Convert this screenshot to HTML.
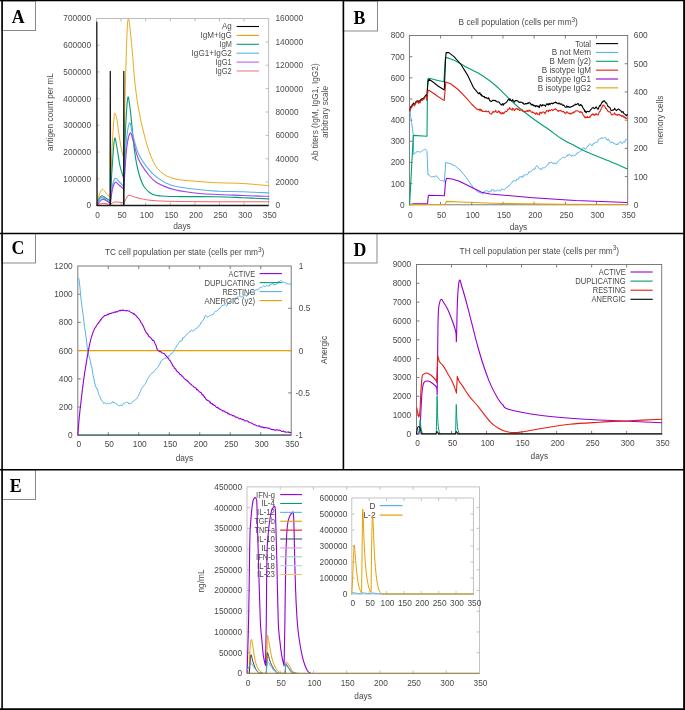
<!DOCTYPE html><html><head><meta charset="utf-8"><style>html,body{margin:0;padding:0;background:#fff;}svg{display:block;will-change:transform;}</style></head><body><svg width="685" height="710" viewBox="0 0 685 710">
<rect width="685" height="710" fill="#fff"/>
<rect x="96.5" y="18.5" width="172.2" height="187" fill="none" stroke="#b4b4b4" stroke-width="0.9"/>
<line x1="121.1" y1="205.5" x2="121.1" y2="202.5" stroke="#b4b4b4" stroke-width="0.9"/>
<line x1="121.1" y1="18.5" x2="121.1" y2="21.5" stroke="#b4b4b4" stroke-width="0.9"/>
<line x1="145.7" y1="205.5" x2="145.7" y2="202.5" stroke="#b4b4b4" stroke-width="0.9"/>
<line x1="145.7" y1="18.5" x2="145.7" y2="21.5" stroke="#b4b4b4" stroke-width="0.9"/>
<line x1="170.3" y1="205.5" x2="170.3" y2="202.5" stroke="#b4b4b4" stroke-width="0.9"/>
<line x1="170.3" y1="18.5" x2="170.3" y2="21.5" stroke="#b4b4b4" stroke-width="0.9"/>
<line x1="194.9" y1="205.5" x2="194.9" y2="202.5" stroke="#b4b4b4" stroke-width="0.9"/>
<line x1="194.9" y1="18.5" x2="194.9" y2="21.5" stroke="#b4b4b4" stroke-width="0.9"/>
<line x1="219.5" y1="205.5" x2="219.5" y2="202.5" stroke="#b4b4b4" stroke-width="0.9"/>
<line x1="219.5" y1="18.5" x2="219.5" y2="21.5" stroke="#b4b4b4" stroke-width="0.9"/>
<line x1="244.1" y1="205.5" x2="244.1" y2="202.5" stroke="#b4b4b4" stroke-width="0.9"/>
<line x1="244.1" y1="18.5" x2="244.1" y2="21.5" stroke="#b4b4b4" stroke-width="0.9"/>
<line x1="96.5" y1="178.79" x2="99.5" y2="178.79" stroke="#b4b4b4" stroke-width="0.9"/>
<line x1="96.5" y1="152.07" x2="99.5" y2="152.07" stroke="#b4b4b4" stroke-width="0.9"/>
<line x1="96.5" y1="125.36" x2="99.5" y2="125.36" stroke="#b4b4b4" stroke-width="0.9"/>
<line x1="96.5" y1="98.64" x2="99.5" y2="98.64" stroke="#b4b4b4" stroke-width="0.9"/>
<line x1="96.5" y1="71.93" x2="99.5" y2="71.93" stroke="#b4b4b4" stroke-width="0.9"/>
<line x1="96.5" y1="45.21" x2="99.5" y2="45.21" stroke="#b4b4b4" stroke-width="0.9"/>
<line x1="268.7" y1="182.12" x2="265.7" y2="182.12" stroke="#b4b4b4" stroke-width="0.9"/>
<line x1="268.7" y1="158.75" x2="265.7" y2="158.75" stroke="#b4b4b4" stroke-width="0.9"/>
<line x1="268.7" y1="135.38" x2="265.7" y2="135.38" stroke="#b4b4b4" stroke-width="0.9"/>
<line x1="268.7" y1="112" x2="265.7" y2="112" stroke="#b4b4b4" stroke-width="0.9"/>
<line x1="268.7" y1="88.62" x2="265.7" y2="88.62" stroke="#b4b4b4" stroke-width="0.9"/>
<line x1="268.7" y1="65.25" x2="265.7" y2="65.25" stroke="#b4b4b4" stroke-width="0.9"/>
<line x1="268.7" y1="41.88" x2="265.7" y2="41.88" stroke="#b4b4b4" stroke-width="0.9"/>
<text x="91" y="208.47" font-size="8.3" text-anchor="end" fill="#4d4d4d" font-family='"Liberation Sans", sans-serif' font-weight="normal">0</text>
<text x="91" y="181.76" font-size="8.3" text-anchor="end" fill="#4d4d4d" font-family='"Liberation Sans", sans-serif' font-weight="normal">100000</text>
<text x="91" y="155.04" font-size="8.3" text-anchor="end" fill="#4d4d4d" font-family='"Liberation Sans", sans-serif' font-weight="normal">200000</text>
<text x="91" y="128.33" font-size="8.3" text-anchor="end" fill="#4d4d4d" font-family='"Liberation Sans", sans-serif' font-weight="normal">300000</text>
<text x="91" y="101.61" font-size="8.3" text-anchor="end" fill="#4d4d4d" font-family='"Liberation Sans", sans-serif' font-weight="normal">400000</text>
<text x="91" y="74.9" font-size="8.3" text-anchor="end" fill="#4d4d4d" font-family='"Liberation Sans", sans-serif' font-weight="normal">500000</text>
<text x="91" y="48.19" font-size="8.3" text-anchor="end" fill="#4d4d4d" font-family='"Liberation Sans", sans-serif' font-weight="normal">600000</text>
<text x="91" y="21.47" font-size="8.3" text-anchor="end" fill="#4d4d4d" font-family='"Liberation Sans", sans-serif' font-weight="normal">700000</text>
<text x="275.5" y="208.47" font-size="8.3" text-anchor="start" fill="#4d4d4d" font-family='"Liberation Sans", sans-serif' font-weight="normal">0</text>
<text x="275.5" y="185.1" font-size="8.3" text-anchor="start" fill="#4d4d4d" font-family='"Liberation Sans", sans-serif' font-weight="normal">20000</text>
<text x="275.5" y="161.72" font-size="8.3" text-anchor="start" fill="#4d4d4d" font-family='"Liberation Sans", sans-serif' font-weight="normal">40000</text>
<text x="275.5" y="138.35" font-size="8.3" text-anchor="start" fill="#4d4d4d" font-family='"Liberation Sans", sans-serif' font-weight="normal">60000</text>
<text x="275.5" y="114.97" font-size="8.3" text-anchor="start" fill="#4d4d4d" font-family='"Liberation Sans", sans-serif' font-weight="normal">80000</text>
<text x="275.5" y="91.6" font-size="8.3" text-anchor="start" fill="#4d4d4d" font-family='"Liberation Sans", sans-serif' font-weight="normal">100000</text>
<text x="275.5" y="68.22" font-size="8.3" text-anchor="start" fill="#4d4d4d" font-family='"Liberation Sans", sans-serif' font-weight="normal">120000</text>
<text x="275.5" y="44.85" font-size="8.3" text-anchor="start" fill="#4d4d4d" font-family='"Liberation Sans", sans-serif' font-weight="normal">140000</text>
<text x="275.5" y="21.47" font-size="8.3" text-anchor="start" fill="#4d4d4d" font-family='"Liberation Sans", sans-serif' font-weight="normal">160000</text>
<text x="97.5" y="217.57" font-size="8.3" text-anchor="middle" fill="#4d4d4d" font-family='"Liberation Sans", sans-serif' font-weight="normal">0</text>
<text x="122.1" y="217.57" font-size="8.3" text-anchor="middle" fill="#4d4d4d" font-family='"Liberation Sans", sans-serif' font-weight="normal">50</text>
<text x="146.7" y="217.57" font-size="8.3" text-anchor="middle" fill="#4d4d4d" font-family='"Liberation Sans", sans-serif' font-weight="normal">100</text>
<text x="171.3" y="217.57" font-size="8.3" text-anchor="middle" fill="#4d4d4d" font-family='"Liberation Sans", sans-serif' font-weight="normal">150</text>
<text x="195.9" y="217.57" font-size="8.3" text-anchor="middle" fill="#4d4d4d" font-family='"Liberation Sans", sans-serif' font-weight="normal">200</text>
<text x="220.5" y="217.57" font-size="8.3" text-anchor="middle" fill="#4d4d4d" font-family='"Liberation Sans", sans-serif' font-weight="normal">250</text>
<text x="245.1" y="217.57" font-size="8.3" text-anchor="middle" fill="#4d4d4d" font-family='"Liberation Sans", sans-serif' font-weight="normal">300</text>
<text x="269.7" y="217.57" font-size="8.3" text-anchor="middle" fill="#4d4d4d" font-family='"Liberation Sans", sans-serif' font-weight="normal">350</text>
<text x="182" y="229.47" font-size="8.3" text-anchor="middle" fill="#4d4d4d" font-family='"Liberation Sans", sans-serif' font-weight="normal">days</text>
<text x="50" y="114.97" font-size="8.3" text-anchor="middle" fill="#4d4d4d" font-family='"Liberation Sans", sans-serif' font-weight="normal" transform="rotate(-90 50 112)">antigen count per mL</text>
<text x="315.4" y="114.97" font-size="8.3" text-anchor="middle" fill="#4d4d4d" font-family='"Liberation Sans", sans-serif' font-weight="normal" transform="rotate(-90 315.4 112)">Ab titers (IgM, IgG1, IgG2)</text>
<text x="324.6" y="114.97" font-size="8.3" text-anchor="middle" fill="#4d4d4d" font-family='"Liberation Sans", sans-serif' font-weight="normal" transform="rotate(-90 324.6 112)">arbitrary scale</text>
<text x="231.8" y="29.47" font-size="8.3" text-anchor="end" fill="#4d4d4d" font-family='"Liberation Sans", sans-serif' font-weight="normal" textLength="9.8" lengthAdjust="spacingAndGlyphs">Ag</text>
<line x1="236.6" y1="26.5" x2="259" y2="26.5" stroke="#000000" stroke-width="1.1"/>
<text x="231.8" y="38.37" font-size="8.3" text-anchor="end" fill="#4d4d4d" font-family='"Liberation Sans", sans-serif' font-weight="normal" textLength="31.3" lengthAdjust="spacingAndGlyphs">IgM+IgG</text>
<line x1="236.6" y1="35.4" x2="259" y2="35.4" stroke="#e69f00" stroke-width="1.1"/>
<text x="231.8" y="47.27" font-size="8.3" text-anchor="end" fill="#4d4d4d" font-family='"Liberation Sans", sans-serif' font-weight="normal" textLength="12.2" lengthAdjust="spacingAndGlyphs">IgM</text>
<line x1="236.6" y1="44.3" x2="259" y2="44.3" stroke="#009e73" stroke-width="1.1"/>
<text x="231.8" y="56.17" font-size="8.3" text-anchor="end" fill="#4d4d4d" font-family='"Liberation Sans", sans-serif' font-weight="normal" textLength="40.2" lengthAdjust="spacingAndGlyphs">IgG1+IgG2</text>
<line x1="236.6" y1="53.2" x2="259" y2="53.2" stroke="#56b4e9" stroke-width="1.1"/>
<text x="231.8" y="65.07" font-size="8.3" text-anchor="end" fill="#4d4d4d" font-family='"Liberation Sans", sans-serif' font-weight="normal" textLength="16.3" lengthAdjust="spacingAndGlyphs">IgG1</text>
<line x1="236.6" y1="62.1" x2="259" y2="62.1" stroke="#c060f0" stroke-width="1.1"/>
<text x="231.8" y="73.97" font-size="8.3" text-anchor="end" fill="#4d4d4d" font-family='"Liberation Sans", sans-serif' font-weight="normal" textLength="16.3" lengthAdjust="spacingAndGlyphs">IgG2</text>
<line x1="236.6" y1="71" x2="259" y2="71" stroke="#f08080" stroke-width="1.1"/>
<path d="M96.8,205.5 C97.08,204.08 97.67,199.67 98.5,197 C99.33,194.33 100.8,190.5 101.8,189.5 C102.8,188.5 103.63,190.17 104.5,191 C105.37,191.83 106.12,193.53 107,194.5 C107.88,195.47 109.33,196.42 109.8,196.8 L110.3,197 C110.58,189.17 111.38,163.17 112,150 C112.62,136.83 113.5,124.1 114,118 C114.5,111.9 114.5,113.07 115,113.4 C115.5,113.73 116.25,115.9 117,120 C117.75,124.1 118.67,132.67 119.5,138 C120.33,143.33 121.32,148.72 122,152 C122.68,155.28 123.33,156.75 123.6,157.7 L123.8,158 C124.08,145 124.93,101.33 125.5,80 C126.07,58.67 126.72,40.17 127.2,30 C127.68,19.83 127.93,19.33 128.4,19 C128.87,18.67 129.23,21.17 130,28 C130.77,34.83 132.23,51.33 133,60 C133.77,68.67 133.72,72.08 134.6,80 C135.48,87.92 136.77,98.65 138.3,107.5 C139.83,116.35 141.67,124.87 143.8,133.1 C145.93,141.33 148.35,150.5 151.1,156.9 C153.85,163.3 156.33,167.83 160.3,171.5 C164.27,175.17 168.28,177.22 174.9,178.9 C181.52,180.58 192.72,180.95 200,181.6 C207.28,182.25 211.48,182.48 218.6,182.8 C225.72,183.12 234.35,183.02 242.7,183.5 C251.05,183.98 264.37,185.33 268.7,185.7" fill="none" stroke="#e69f00" stroke-width="0.9" stroke-linejoin="round" stroke-linecap="round"/>
<path d="M96.8,205.5 C97.17,204.42 98.17,200.62 99,199 C99.83,197.38 100.8,196.05 101.8,195.8 C102.8,195.55 103.67,196.72 105,197.5 C106.33,198.28 109,200 109.8,200.5 L110.3,201 C110.58,195.83 111.3,180.33 112,170 C112.7,159.67 113.67,142.67 114.5,139 C115.33,135.33 116.08,143.5 117,148 C117.92,152.5 118.9,161 120,166 C121.1,171 123,176 123.6,178 L123.8,179 C124.08,170.83 124.85,143.45 125.5,130 C126.15,116.55 127.03,102.63 127.7,98.3 C128.37,93.97 128.95,100.95 129.5,104 C130.05,107.05 130.15,108.7 131,116.6 C131.85,124.5 133.38,142.25 134.6,151.4 C135.82,160.55 136.77,165.7 138.3,171.5 C139.83,177.3 141.35,182.38 143.8,186.2 C146.25,190.02 149.33,192.73 153,194.4 C156.67,196.07 161.3,195.83 165.8,196.2 C170.3,196.57 171.63,196.52 180,196.6 C188.37,196.68 205.55,196.52 216,196.7 C226.45,196.88 233.92,197.33 242.7,197.7 C251.48,198.07 264.37,198.7 268.7,198.9" fill="none" stroke="#009e73" stroke-width="1.1" stroke-linejoin="round" stroke-linecap="round"/>
<path d="M96.8,205.5 C97.25,204.58 98.67,201.35 99.5,200 C100.33,198.65 100.88,197.57 101.8,197.4 C102.72,197.23 103.67,198.23 105,199 C106.33,199.77 109,201.5 109.8,202 L110.3,202 C110.67,199.17 111.65,188.95 112.5,185 C113.35,181.05 114.32,178.88 115.4,178.3 C116.48,177.72 117.63,180.15 119,181.5 C120.37,182.85 122.83,185.58 123.6,186.4 L123.8,187 C124.17,180 125.05,155.67 126,145 C126.95,134.33 128.37,124.68 129.5,123 C130.63,121.32 131.33,129.87 132.8,134.9 C134.27,139.93 135.85,147.7 138.3,153.2 C140.75,158.7 144.45,163.93 147.5,167.9 C150.55,171.87 152.63,174.1 156.6,177 C160.57,179.9 164.07,183.17 171.3,185.3 C178.53,187.43 192.12,188.82 200,189.8 C207.88,190.78 211.48,190.88 218.6,191.2 C225.72,191.52 234.35,191.42 242.7,191.7 C251.05,191.98 264.37,192.7 268.7,192.9" fill="none" stroke="#56b4e9" stroke-width="1.1" stroke-linejoin="round" stroke-linecap="round"/>
<path d="M96.8,205.5 C97.33,204.83 99.02,202.57 100,201.5 C100.98,200.43 101.7,199.27 102.7,199.1 C103.7,198.93 104.82,199.85 106,200.5 C107.18,201.15 109.17,202.58 109.8,203 L110.3,203 C110.67,200.67 111.65,192.47 112.5,189 C113.35,185.53 114.32,182.87 115.4,182.2 C116.48,181.53 117.63,183.87 119,185 C120.37,186.13 122.83,188.33 123.6,189 L123.8,190 C124.25,183.33 125.47,159.48 126.5,150 C127.53,140.52 128.92,134.77 130,133.1 C131.08,131.43 131.62,135.73 133,140 C134.38,144.27 135.88,153.13 138.3,158.7 C140.72,164.27 144.45,169.43 147.5,173.4 C150.55,177.37 152.03,179.77 156.6,182.5 C161.17,185.23 167.67,187.97 174.9,189.8 C182.13,191.63 188.7,192.55 200,193.5 C211.3,194.45 231.25,195.03 242.7,195.5 C254.15,195.97 264.37,196.17 268.7,196.3" fill="none" stroke="#a040e8" stroke-width="1.1" stroke-linejoin="round" stroke-linecap="round"/>
<path d="M96.8,205.5 C97.63,205.15 99.63,203.6 101.8,203.4 C103.97,203.2 108.47,204.15 109.8,204.3 L110.3,204.3 C111.15,203.92 113.18,202.22 115.4,202 C117.62,201.78 122.23,202.83 123.6,203 L123.8,203.5 C124.25,202.58 125.6,199.37 126.5,198 C127.4,196.63 127.23,195.28 129.2,195.3 C131.17,195.32 133.73,197.18 138.3,198.1 C142.87,199.02 146.32,200.2 156.6,200.8 C166.88,201.4 181.32,201.53 200,201.7 C218.68,201.87 257.25,201.78 268.7,201.8" fill="none" stroke="#f05050" stroke-width="0.9" stroke-linejoin="round" stroke-linecap="round"/>
<path d="M96.8,21.8 L97.1,205.5 L110.1,205.5 L110.3,71.4 L110.5,205.5 L123.6,205.5 L123.8,71.4 L124,205.5 L268.7,205.5" fill="none" stroke="#1c1c1c" stroke-width="1.3" stroke-linejoin="round"/>
<rect x="409.4" y="35.5" width="218.3" height="169.3" fill="none" stroke="#6e6e6e" stroke-width="0.9"/>
<line x1="440.59" y1="204.8" x2="440.59" y2="201.8" stroke="#6e6e6e" stroke-width="0.9"/>
<line x1="440.59" y1="35.5" x2="440.59" y2="38.5" stroke="#6e6e6e" stroke-width="0.9"/>
<line x1="471.77" y1="204.8" x2="471.77" y2="201.8" stroke="#6e6e6e" stroke-width="0.9"/>
<line x1="471.77" y1="35.5" x2="471.77" y2="38.5" stroke="#6e6e6e" stroke-width="0.9"/>
<line x1="502.96" y1="204.8" x2="502.96" y2="201.8" stroke="#6e6e6e" stroke-width="0.9"/>
<line x1="502.96" y1="35.5" x2="502.96" y2="38.5" stroke="#6e6e6e" stroke-width="0.9"/>
<line x1="534.14" y1="204.8" x2="534.14" y2="201.8" stroke="#6e6e6e" stroke-width="0.9"/>
<line x1="534.14" y1="35.5" x2="534.14" y2="38.5" stroke="#6e6e6e" stroke-width="0.9"/>
<line x1="565.33" y1="204.8" x2="565.33" y2="201.8" stroke="#6e6e6e" stroke-width="0.9"/>
<line x1="565.33" y1="35.5" x2="565.33" y2="38.5" stroke="#6e6e6e" stroke-width="0.9"/>
<line x1="596.51" y1="204.8" x2="596.51" y2="201.8" stroke="#6e6e6e" stroke-width="0.9"/>
<line x1="596.51" y1="35.5" x2="596.51" y2="38.5" stroke="#6e6e6e" stroke-width="0.9"/>
<line x1="409.4" y1="183.64" x2="412.4" y2="183.64" stroke="#6e6e6e" stroke-width="0.9"/>
<line x1="409.4" y1="162.48" x2="412.4" y2="162.48" stroke="#6e6e6e" stroke-width="0.9"/>
<line x1="409.4" y1="141.31" x2="412.4" y2="141.31" stroke="#6e6e6e" stroke-width="0.9"/>
<line x1="409.4" y1="120.15" x2="412.4" y2="120.15" stroke="#6e6e6e" stroke-width="0.9"/>
<line x1="409.4" y1="98.99" x2="412.4" y2="98.99" stroke="#6e6e6e" stroke-width="0.9"/>
<line x1="409.4" y1="77.83" x2="412.4" y2="77.83" stroke="#6e6e6e" stroke-width="0.9"/>
<line x1="409.4" y1="56.66" x2="412.4" y2="56.66" stroke="#6e6e6e" stroke-width="0.9"/>
<line x1="627.7" y1="176.58" x2="624.7" y2="176.58" stroke="#6e6e6e" stroke-width="0.9"/>
<line x1="627.7" y1="148.37" x2="624.7" y2="148.37" stroke="#6e6e6e" stroke-width="0.9"/>
<line x1="627.7" y1="120.15" x2="624.7" y2="120.15" stroke="#6e6e6e" stroke-width="0.9"/>
<line x1="627.7" y1="91.93" x2="624.7" y2="91.93" stroke="#6e6e6e" stroke-width="0.9"/>
<line x1="627.7" y1="63.72" x2="624.7" y2="63.72" stroke="#6e6e6e" stroke-width="0.9"/>
<text x="518.2" y="24.97" font-size="8.3" text-anchor="middle" fill="#484848" font-family='"Liberation Sans", sans-serif' font-weight="normal">B cell population (cells per mm<tspan font-size="6.3" dy="-3.4">3</tspan><tspan dy="3.4">)</tspan></text>
<text x="404.5" y="207.77" font-size="8.3" text-anchor="end" fill="#484848" font-family='"Liberation Sans", sans-serif' font-weight="normal">0</text>
<text x="404.5" y="186.61" font-size="8.3" text-anchor="end" fill="#484848" font-family='"Liberation Sans", sans-serif' font-weight="normal">100</text>
<text x="404.5" y="165.45" font-size="8.3" text-anchor="end" fill="#484848" font-family='"Liberation Sans", sans-serif' font-weight="normal">200</text>
<text x="404.5" y="144.28" font-size="8.3" text-anchor="end" fill="#484848" font-family='"Liberation Sans", sans-serif' font-weight="normal">300</text>
<text x="404.5" y="123.12" font-size="8.3" text-anchor="end" fill="#484848" font-family='"Liberation Sans", sans-serif' font-weight="normal">400</text>
<text x="404.5" y="101.96" font-size="8.3" text-anchor="end" fill="#484848" font-family='"Liberation Sans", sans-serif' font-weight="normal">500</text>
<text x="404.5" y="80.8" font-size="8.3" text-anchor="end" fill="#484848" font-family='"Liberation Sans", sans-serif' font-weight="normal">600</text>
<text x="404.5" y="59.63" font-size="8.3" text-anchor="end" fill="#484848" font-family='"Liberation Sans", sans-serif' font-weight="normal">700</text>
<text x="404.5" y="38.47" font-size="8.3" text-anchor="end" fill="#484848" font-family='"Liberation Sans", sans-serif' font-weight="normal">800</text>
<text x="633.8" y="207.77" font-size="8.3" text-anchor="start" fill="#484848" font-family='"Liberation Sans", sans-serif' font-weight="normal">0</text>
<text x="633.8" y="179.55" font-size="8.3" text-anchor="start" fill="#484848" font-family='"Liberation Sans", sans-serif' font-weight="normal">100</text>
<text x="633.8" y="151.34" font-size="8.3" text-anchor="start" fill="#484848" font-family='"Liberation Sans", sans-serif' font-weight="normal">200</text>
<text x="633.8" y="123.12" font-size="8.3" text-anchor="start" fill="#484848" font-family='"Liberation Sans", sans-serif' font-weight="normal">300</text>
<text x="633.8" y="94.9" font-size="8.3" text-anchor="start" fill="#484848" font-family='"Liberation Sans", sans-serif' font-weight="normal">400</text>
<text x="633.8" y="66.69" font-size="8.3" text-anchor="start" fill="#484848" font-family='"Liberation Sans", sans-serif' font-weight="normal">500</text>
<text x="633.8" y="38.47" font-size="8.3" text-anchor="start" fill="#484848" font-family='"Liberation Sans", sans-serif' font-weight="normal">600</text>
<text x="410.4" y="217.57" font-size="8.3" text-anchor="middle" fill="#484848" font-family='"Liberation Sans", sans-serif' font-weight="normal">0</text>
<text x="441.59" y="217.57" font-size="8.3" text-anchor="middle" fill="#484848" font-family='"Liberation Sans", sans-serif' font-weight="normal">50</text>
<text x="472.77" y="217.57" font-size="8.3" text-anchor="middle" fill="#484848" font-family='"Liberation Sans", sans-serif' font-weight="normal">100</text>
<text x="503.96" y="217.57" font-size="8.3" text-anchor="middle" fill="#484848" font-family='"Liberation Sans", sans-serif' font-weight="normal">150</text>
<text x="535.14" y="217.57" font-size="8.3" text-anchor="middle" fill="#484848" font-family='"Liberation Sans", sans-serif' font-weight="normal">200</text>
<text x="566.33" y="217.57" font-size="8.3" text-anchor="middle" fill="#484848" font-family='"Liberation Sans", sans-serif' font-weight="normal">250</text>
<text x="597.51" y="217.57" font-size="8.3" text-anchor="middle" fill="#484848" font-family='"Liberation Sans", sans-serif' font-weight="normal">300</text>
<text x="628.7" y="217.57" font-size="8.3" text-anchor="middle" fill="#484848" font-family='"Liberation Sans", sans-serif' font-weight="normal">350</text>
<text x="518.5" y="230.27" font-size="8.3" text-anchor="middle" fill="#484848" font-family='"Liberation Sans", sans-serif' font-weight="normal">days</text>
<text x="660.2" y="122.97" font-size="8.3" text-anchor="middle" fill="#484848" font-family='"Liberation Sans", sans-serif' font-weight="normal" transform="rotate(-90 660.2 120)">memory cells</text>
<path d="M409.9,111 L410.75,116.83 L411.6,122.39 L412.45,128.64 L413.3,134.84 L413.7,154.45 L414.37,153.41 L415.04,153.65 L415.71,152.86 L416.39,151.76 L417.06,152.12 L417.73,151.56 L418.4,151.56 L419.07,151.97 L419.73,151.94 L420.4,152.1 L421.07,151.47 L421.73,151.29 L422.4,150.94 L423.06,150.3 L423.72,149.72 L424.38,149.45 L425.04,149 L425.7,149.48 L426.35,150.54 L427,151.2 L428,175.2 L428.64,174.44 L429.28,175.25 L429.93,176.2 L430.57,176.42 L431.21,176.9 L431.85,176.8 L432.49,176.79 L433.13,176.9 L433.77,176.15 L434.42,176.92 L435.06,176.6 L435.7,175.77 L436.32,175.75 L436.94,176.89 L437.56,177.23 L438.19,178.22 L438.81,178.6 L439.43,179.43 L440.05,179.93 L440.67,180.59 L441.29,180.82 L441.91,180.47 L442.54,180.62 L443.16,181.11 L443.78,181.56 L444.4,181.9 L444.3,181.5 L445.2,170 L445.7,162.5 L450,163.5 L455.3,166 L460,170 L464,174.8 L468,180 L472.8,187 L478,192.3 L478,192.3 L478.66,191.97 L479.32,192.33 L479.99,192.55 L480.65,193.2 L481.31,192.55 L481.98,192.19 L482.64,194.2 L483.3,193.69 L484.15,191.28 L485,191.02 L485.62,190.85 L486.25,190.88 L486.88,190.59 L487.5,190.9 L488.12,191.22 L488.75,192.31 L489.38,191.31 L490,191.08 L490.62,191.18 L491.23,191.42 L491.85,189.65 L492.47,189.73 L493.09,190.06 L493.7,189.73 L494.32,191.48 L494.94,191 L495.56,190.89 L496.17,191 L496.79,190.65 L497.41,189.68 L498.03,190.16 L498.64,191.05 L499.26,190.49 L499.88,190.72 L500.5,190.89 L501.11,189.49 L501.73,188.95 L502.35,189.11 L502.97,189.49 L503.58,189.62 L504.2,190.15 L504.82,189.27 L505.44,188.4 L506.07,187.51 L506.69,187.35 L507.31,187.35 L507.93,186.8 L508.55,185.61 L509.17,185.9 L509.8,185.55 L510.42,184.23 L511.04,183.41 L511.66,182.44 L512.28,182.36 L512.9,180.82 L513.53,180.71 L514.15,181.12 L514.77,180.7 L515.39,180.98 L516.01,180.93 L516.63,179.18 L517.26,179.04 L517.88,179.71 L518.5,179.14 L519.11,177.4 L519.72,177.01 L520.33,176.69 L520.94,177.22 L521.56,176.36 L522.17,177.43 L522.78,176.27 L523.39,176.8 L524,174.78 L524.61,175.27 L525.22,174.76 L525.83,174.22 L526.44,175.08 L527.06,175.01 L527.67,174.37 L528.28,173.43 L528.89,171.77 L529.5,171.74 L530.11,171.88 L530.72,172.05 L531.33,171.3 L531.94,170.4 L532.56,169.88 L533.17,169.6 L533.78,168.71 L534.39,169.51 L535,169.16 L535.62,167.25 L536.24,166.52 L536.86,165.5 L537.48,166.16 L538.1,166.9 L538.71,168.28 L539.33,168.67 L539.95,168.81 L540.57,168.85 L541.19,169.77 L541.81,168.86 L542.43,167.96 L543.05,167.97 L543.67,167.68 L544.29,167.71 L544.9,167.85 L545.52,167.25 L546.14,166.13 L546.76,165.84 L547.38,164.7 L548,164.81 L548.6,164.06 L549.2,162.24 L549.8,163.16 L550.4,162.99 L551,162.1 L551.6,162.01 L552.2,162.85 L552.8,163.72 L553.4,163.35 L554,162.68 L554.6,163.69 L555.2,163.83 L555.8,163.47 L556.4,164.08 L557,162.4 L557.6,162.23 L558.2,161.13 L558.8,160.54 L559.4,160 L560,159.74 L560.6,159.44 L561.2,158.89 L561.81,158.09 L562.41,157.38 L563.02,157.71 L563.63,157.29 L564.24,157.59 L564.84,157.08 L565.45,157.32 L566.06,156.61 L566.66,155.54 L567.27,156.05 L567.88,154.82 L568.49,155.54 L569.09,154.16 L569.7,154.3 L570.31,155.06 L570.91,155.02 L571.52,156.33 L572.13,156.22 L572.74,155.19 L573.34,155.3 L573.95,154.96 L574.56,155.68 L575.16,155.19 L575.77,155.14 L576.38,153.43 L576.99,153.86 L577.59,152.43 L578.2,152.45 L578.83,152.14 L579.45,152.02 L580.08,151.64 L580.71,151.19 L581.34,150.65 L581.96,149.87 L582.59,149.09 L583.22,147.56 L583.85,148.26 L584.47,148.03 L585.1,149.29 L585.73,149.08 L586.35,148.18 L586.98,147.12 L587.61,146.06 L588.24,146.04 L588.86,144.72 L589.49,144.15 L590.12,143.74 L590.75,144.21 L591.37,145.37 L592,146.06 L592.63,144.89 L593.25,143.46 L593.88,144.05 L594.51,142.81 L595.13,142.72 L595.76,141.88 L596.38,142.63 L597.01,142.09 L597.64,141.97 L598.26,139.87 L598.89,139.21 L599.52,139.18 L600.14,138.49 L600.77,138.32 L601.39,138.51 L602.02,137.3 L602.65,138.32 L603.27,138.35 L603.9,137.72 L604.53,137.5 L605.16,137.94 L605.78,137.67 L606.41,139.27 L607.04,139.62 L607.67,140.45 L608.29,138.84 L608.92,139.41 L609.55,141.43 L610.18,142.29 L610.81,142.04 L611.43,143.02 L612.06,142.06 L612.69,142.02 L613.32,142.91 L613.94,143.92 L614.57,143.6 L615.2,143.83 L615.82,144.38 L616.43,144.99 L617.05,143.78 L617.66,144.96 L618.28,143.38 L618.89,143.2 L619.5,142.91 L620.12,141.8 L620.74,141.8 L621.35,142.67 L621.97,143.6 L622.58,142.72 L623.2,142.47 L623.81,141.6 L624.42,142.38 L625.04,141.17 L625.65,139.52 L626.27,139.56 L626.88,138.98 L627.5,139.2" fill="none" stroke="#56b4e9" stroke-width="1" stroke-linejoin="round"/>
<path d="M409.6,204.8 L413.3,135.4 L413.3,135.4 L427,136.3 L427,136.3 L427.6,80 L427.6,80 C427.83,79.72 427.6,78.3 429,78.3 C430.4,78.3 433.52,79.42 436,80 C438.48,80.58 442.58,81.5 443.9,81.8 L443.9,81.8 L445.2,60 L445.2,60 C445.37,59.6 445.07,57.68 446.2,57.6 C447.33,57.52 450.12,58.78 452,59.5 C453.88,60.22 454.83,60.48 457.5,61.9 C460.17,63.32 464.58,66.15 468,68 C471.42,69.85 475.08,71.38 478,73 C480.92,74.62 483.07,76.03 485.5,77.7 C487.93,79.37 489.97,80.82 492.6,83 C495.23,85.18 498.4,88.03 501.3,90.8 C504.2,93.57 507.08,96.82 510,99.6 C512.92,102.38 515.87,105.02 518.8,107.5 C521.73,109.98 524.38,112.03 527.6,114.5 C530.82,116.97 534.6,119.83 538.1,122.3 C541.6,124.77 544.75,126.6 548.6,129.3 C552.45,132 556.8,135.72 561.2,138.5 C565.6,141.28 570.73,143.73 575,146 C579.27,148.27 581.03,149.57 586.8,152.1 C592.57,154.63 602.82,158.4 609.6,161.2 C616.38,164 624.52,167.62 627.5,168.9" fill="none" stroke="#009e73" stroke-width="1.1" stroke-linejoin="round" stroke-linecap="round"/>
<path d="M409.7,110.71 L410.35,108.01 L411,106.26 L411.5,106.26 L412,105.36 L412.5,104.36 L413,104.14 L413.5,103.1 L414,103.85 L414.5,104.09 L415,103.5 L415.5,102.81 L415.98,101.62 L416.47,100.96 L416.95,100.96 L417.43,100.93 L417.92,100.81 L418.4,102.3 L418.92,100.82 L419.43,100.71 L419.95,101.92 L420.47,99.85 L420.98,99.49 L421.5,99.01 L422,99.37 L422.5,98.56 L423,98.32 L423.5,98.02 L424,98.34 L424.5,96.73 L425,96.37 L425.5,95.35 L426,95.05 L426.5,95.76 L426.6,98 L428,82 L429,79.2 L433,82 L438,86 L443.9,89.7 L444.3,90 L445.5,60 L446.1,52.6 L448.8,52.6 L454,56.6 L461,64.5 L468,75.9 L473.3,87.3 L477.7,92.6 L477.7,92.96 L478.22,93.08 L478.74,93.62 L479.26,93.77 L479.78,92.48 L480.3,94 L480.82,94.96 L481.34,94.3 L481.86,96.22 L482.38,95.68 L482.9,96.27 L483.42,96.5 L483.94,96.82 L484.46,96.51 L484.98,97.98 L485.5,97.75 L486.01,97.5 L486.51,97.57 L487.02,98.3 L487.53,98.28 L488.04,98.93 L488.54,97.8 L489.05,98.65 L489.56,99.96 L490.06,101.08 L490.57,100.95 L491.08,101.54 L491.59,101.37 L492.09,100.89 L492.6,100.31 L493.11,100.67 L493.62,100.18 L494.14,100.18 L494.65,100.58 L495.16,100.86 L495.67,100.35 L496.18,101.29 L496.69,101.77 L497.21,101.7 L497.72,101.92 L498.23,101.92 L498.74,101.97 L499.25,102.27 L499.76,103.11 L500.28,103.87 L500.79,104.17 L501.3,104.98 L501.81,104.87 L502.32,104 L502.84,103.65 L503.35,105.21 L503.86,104.09 L504.37,103.8 L504.88,103.4 L505.39,103 L505.91,102.77 L506.42,102.21 L506.93,101.88 L507.44,100.76 L507.95,100.04 L508.46,99.29 L508.98,100.06 L509.49,100.3 L510,98.74 L510.52,100.24 L511.04,100.26 L511.55,100.5 L512.07,101 L512.59,99.58 L513.11,100.38 L513.62,100.96 L514.14,101.9 L514.66,102.09 L515.18,100.62 L515.69,100.65 L516.21,100.46 L516.73,100.66 L517.25,100.76 L517.76,100.79 L518.28,101.89 L518.8,101.7 L519.32,102.34 L519.84,102.53 L520.35,102.03 L520.87,102.08 L521.39,102.32 L521.91,102.43 L522.42,102.47 L522.94,103.49 L523.46,103.07 L523.98,104.22 L524.49,104.2 L525.01,104.02 L525.53,103.5 L526.05,103.91 L526.56,103.64 L527.08,103.6 L527.6,103.03 L528.1,103.67 L528.6,102.99 L529.1,102.33 L529.6,102.99 L530.1,102.95 L530.6,103.62 L531.1,104.64 L531.6,104.34 L532.1,105.19 L532.6,104.22 L533.1,104.83 L533.6,105.82 L534.1,105.64 L534.6,105.36 L535.1,106.12 L535.6,106.74 L536.1,105.59 L536.6,105.7 L537.1,105.96 L537.6,106.73 L538.1,106.15 L538.62,106.11 L539.14,107.8 L539.66,106.48 L540.18,104.62 L540.71,105.22 L541.23,105.28 L541.75,106.12 L542.27,104.73 L542.79,105.33 L543.31,105.06 L543.83,105.02 L544.35,105.41 L544.87,105.28 L545.39,106.37 L545.92,105.19 L546.44,104.45 L546.96,103.57 L547.48,104.39 L548,104.58 L548.51,104.99 L549.02,103.2 L549.53,104.23 L550.03,104.59 L550.54,103.44 L551.05,103.57 L551.56,103.13 L552.07,103.06 L552.58,103.86 L553.09,103.54 L553.6,103.04 L554.1,102.58 L554.61,102.86 L555.12,102.65 L555.63,101.96 L556.14,102.72 L556.65,102.55 L557.16,103.59 L557.67,103.74 L558.17,103.79 L558.68,103.17 L559.19,103.06 L559.7,103.37 L560.21,104.46 L560.72,103.95 L561.22,103.98 L561.73,103.91 L562.24,105.09 L562.75,105.16 L563.25,104.92 L563.76,105.54 L564.27,105.58 L564.78,106.49 L565.28,107.23 L565.79,107.27 L566.3,107.23 L566.81,105.82 L567.32,106.6 L567.83,107.18 L568.34,106.43 L568.86,106.76 L569.37,107.36 L569.88,107 L570.39,107.13 L570.9,107.08 L571.41,106.52 L571.92,106.44 L572.43,106.17 L572.94,105.83 L573.46,105.83 L573.97,105.23 L574.48,104.98 L574.99,104.85 L575.5,104.12 L576,104.77 L576.5,104.47 L577,104.3 L577.5,103.52 L578,104.01 L578.5,103.77 L579,105.39 L579.5,105.69 L580,105.49 L580.5,104.46 L581,104.64 L581.5,105.63 L582,105.4 L582.53,107.05 L583.06,108.04 L583.59,109.13 L584.12,109.24 L584.65,111.4 L585.18,111.94 L585.71,110.92 L586.24,112.72 L586.77,111.75 L587.3,111.59 L587.83,111.38 L588.36,111.75 L588.89,111.74 L589.42,111.23 L589.95,111.01 L590.48,109.76 L591.01,109.41 L591.54,108.79 L592.07,107.93 L592.6,107.93 L593.12,107.27 L593.64,108.01 L594.16,108.66 L594.68,108.27 L595.2,108.32 L595.72,107.22 L596.24,106.86 L596.76,107.9 L597.28,108.25 L597.8,109.31 L598.33,109.14 L598.86,107.63 L599.39,106.03 L599.92,105.42 L600.45,105.94 L600.98,104.08 L601.51,103.52 L602.04,102.14 L602.57,102.21 L603.1,100.95 L603.62,101.39 L604.14,100.77 L604.66,100.93 L605.18,101.98 L605.7,102.98 L606.23,102.77 L606.76,103.45 L607.29,104.92 L607.82,106.21 L608.35,106.37 L608.88,107.07 L609.41,107.41 L609.94,107.45 L610.47,108.9 L611,110.38 L611.52,110.43 L612.04,110.44 L612.56,110.2 L613.08,109.67 L613.6,109.91 L614.12,109.61 L614.64,108.25 L615.16,109.33 L615.68,109.83 L616.2,110.38 L616.72,110.64 L617.24,109.78 L617.76,109.35 L618.28,109.17 L618.8,109.13 L619.33,109.44 L619.85,110.14 L620.38,110.53 L620.91,110.69 L621.43,112.05 L621.96,112.27 L622.49,111.88 L623.01,111.52 L623.54,113.06 L624.07,113.72 L624.59,113.9 L625.12,114.4 L625.65,114.7 L626.17,115.76 L626.7,115.63 L627.5,114.1" fill="none" stroke="#000" stroke-width="1.1" stroke-linejoin="round"/>
<path d="M409.7,112.1 L410.35,109.17 L411,107.64 L411.5,107.69 L412,106.95 L412.5,105.65 L413,105.29 L413.5,104.2 L414,105.34 L414.5,105.67 L415,105.01 L415.5,103.75 L415.98,102.96 L416.47,102.06 L416.95,101.94 L417.43,102.15 L417.92,101.92 L418.4,103.18 L418.92,102.14 L419.43,101.43 L419.95,103.06 L420.47,101.5 L420.98,100.7 L421.5,100.6 L422,100.38 L422.5,99.95 L423,99.94 L423.5,99.62 L424,99.31 L424.5,97.92 L425,97.16 L425.5,96.87 L426,96.18 L426.5,97.16 L426.6,100.2 L428,91 L429,90.2 L433,93 L438,96.5 L443.9,100.4 L444.2,100.4 L445.8,82 L450.5,83.8 L457.5,89 L466.3,97.8 L471.5,104 L476.8,109.2 L476.8,109.32 L477.31,109.09 L477.82,109.61 L478.34,109.64 L478.85,109.29 L479.36,110.17 L479.87,109.04 L480.38,109.33 L480.89,110.69 L481.41,109.68 L481.92,110.79 L482.43,111.4 L482.94,110.81 L483.45,111.27 L483.96,111.47 L484.48,111.56 L484.99,111.63 L485.5,111.23 L486.01,111.61 L486.52,110.99 L487.03,111.71 L487.54,111.7 L488.05,111.64 L488.56,111.06 L489.07,111.88 L489.58,113.17 L490.09,113.71 L490.6,113.77 L491.11,113.72 L491.62,114.19 L492.13,112.92 L492.64,111.94 L493.15,112.39 L493.65,111.37 L494.16,111.77 L494.67,111.95 L495.18,111.82 L495.69,110.35 L496.2,111.49 L496.71,112.31 L497.22,112.5 L497.73,112.55 L498.24,110.94 L498.75,111.57 L499.26,111.12 L499.77,112.63 L500.28,113.2 L500.79,112.37 L501.3,113.86 L501.81,113.77 L502.33,112.8 L502.84,112.32 L503.36,113.72 L503.87,113.44 L504.39,112.67 L504.9,111.95 L505.42,111.22 L505.93,111.18 L506.45,111.74 L506.96,111.13 L507.48,110.14 L507.99,109.06 L508.51,109.17 L509.02,109.09 L509.54,107.63 L510.05,108.74 L510.56,109.15 L511.08,109.24 L511.59,109.46 L512.11,110.27 L512.62,108.2 L513.14,108.7 L513.65,109.06 L514.17,110.35 L514.68,110.59 L515.2,109.48 L515.71,108.98 L516.23,108.43 L516.74,108.9 L517.26,109.33 L517.77,108.53 L518.29,109.46 L518.8,109.53 L519.32,110.45 L519.84,110.16 L520.35,110.28 L520.87,110.32 L521.39,110.03 L521.91,109.91 L522.42,109.81 L522.94,111.73 L523.46,111.37 L523.98,111.38 L524.49,111.49 L525.01,111.97 L525.53,111.22 L526.05,111.44 L526.56,111 L527.08,111.25 L527.6,110.41 L528.12,111.43 L528.63,110.88 L529.15,109.9 L529.67,110.95 L530.18,110.89 L530.7,110.99 L531.22,111.9 L531.73,112.19 L532.25,112.56 L532.77,111.9 L533.28,112.78 L533.8,112.67 L534.32,113.3 L534.83,113.21 L535.35,113.85 L535.87,114.34 L536.38,112.88 L536.9,113.04 L537.42,113.69 L537.93,114.37 L538.45,114.13 L538.97,114.01 L539.48,114.9 L540,112.02 L540.51,112.41 L541.01,113.15 L541.52,113.53 L542.02,112.47 L542.53,112.3 L543.03,111.8 L543.54,112.07 L544.04,112.25 L544.55,112.49 L545.05,113.83 L545.56,112.19 L546.06,111.59 L546.57,110.61 L547.07,111.09 L547.58,110.84 L548.08,110.91 L548.59,111.68 L549.09,109.82 L549.6,110.34 L550.1,110.65 L550.61,110.28 L551.11,110.07 L551.62,109.64 L552.12,109.73 L552.63,110.58 L553.13,110.55 L553.64,109.79 L554.14,109.4 L554.65,109.19 L555.15,109.14 L555.66,108.64 L556.16,109.59 L556.67,109.72 L557.17,110.44 L557.68,110.43 L558.18,111.55 L558.69,110.58 L559.19,110.83 L559.7,110.78 L560.21,110.82 L560.72,110.31 L561.22,110.67 L561.73,111.58 L562.24,111.44 L562.75,111.86 L563.25,111.28 L563.76,111.9 L564.27,111.96 L564.78,113.07 L565.28,113.55 L565.79,112.77 L566.3,112.85 L566.81,111.61 L567.32,112.31 L567.83,112.87 L568.34,113.15 L568.86,112.89 L569.37,113.76 L569.88,113.38 L570.39,113.6 L570.9,114.1 L571.41,113.34 L571.92,112.98 L572.43,112.75 L572.94,113.27 L573.46,112.34 L573.97,111.79 L574.48,112.39 L574.99,111.56 L575.5,111.03 L576,110.86 L576.5,110.69 L577,110.83 L577.5,111.04 L578,111.06 L578.5,111.41 L579,111.65 L579.5,112.15 L580,112.54 L580.5,111.59 L581,111.67 L581.5,112.49 L582,112.28 L582.53,113.35 L583.06,114.92 L583.59,115.44 L584.12,116.03 L584.65,117.15 L585.18,117.81 L585.71,117.07 L586.24,117.73 L586.77,117.31 L587.3,116.43 L587.83,117.43 L588.36,117.53 L588.89,117.56 L589.42,116.82 L589.95,117.42 L590.48,116.13 L591.01,115.74 L591.54,114.54 L592.07,114.61 L592.6,113.97 L593.12,114.64 L593.64,113.96 L594.16,115.41 L594.68,115.03 L595.2,114.87 L595.72,113.93 L596.24,113.51 L596.76,114.63 L597.28,114.73 L597.8,114.92 L598.33,114.88 L598.86,112.77 L599.39,112.09 L599.92,111.13 L600.45,110.89 L600.98,109.12 L601.51,108.15 L602.04,107.12 L602.57,105.87 L603.1,105.09 L603.63,105.4 L604.15,105.94 L604.68,105.93 L605.21,107.35 L605.73,108.39 L606.26,108.44 L606.79,109.36 L607.31,110.07 L607.84,111.32 L608.37,111.25 L608.89,111.93 L609.42,111.88 L609.95,111.66 L610.47,112.5 L611,113.8 L611.52,114.8 L612.04,115.04 L612.56,114.55 L613.08,114.31 L613.6,114.23 L614.12,114.02 L614.64,112.83 L615.16,114.14 L615.68,114.8 L616.2,114.66 L616.72,115.09 L617.24,115.34 L617.76,114.63 L618.28,114.61 L618.8,114.52 L619.33,114.49 L619.85,115.36 L620.38,115.3 L620.91,115.41 L621.43,116.02 L621.96,116.56 L622.49,115.62 L623.01,116.08 L623.54,116.04 L624.07,117.43 L624.59,116.87 L625.12,118.16 L625.65,117.63 L626.17,118.39 L626.7,118.37 L627.5,117.88" fill="none" stroke="#e51e10" stroke-width="1.1" stroke-linejoin="round"/>
<path d="M409.6,204.6 L414,203.8 L427.5,203.5 L428.3,196 L429,195.3 L444.4,195.8 L445.5,182 L446.5,178.3 L452,179 L458.8,181 L471,187 L481.6,192.3 L490,194 L532.7,197.7 L575.4,200.5 L627.5,202.5" fill="none" stroke="#9400d3" stroke-width="1.1" stroke-linejoin="round"/>
<path d="M409.6,204.6 L445,204.3 L446.5,201.4 L460,202 L500,203.5 L560,204.2 L627.5,204.5" fill="none" stroke="#e69f00" stroke-width="1.1" stroke-linejoin="round"/>
<text x="591" y="46.57" font-size="8.3" text-anchor="end" fill="#484848" font-family='"Liberation Sans", sans-serif' font-weight="normal" textLength="15.7" lengthAdjust="spacingAndGlyphs">Total</text>
<line x1="595.9" y1="43.6" x2="618.1" y2="43.6" stroke="#000000" stroke-width="1.1"/>
<text x="591" y="55.42" font-size="8.3" text-anchor="end" fill="#484848" font-family='"Liberation Sans", sans-serif' font-weight="normal" textLength="39.2" lengthAdjust="spacingAndGlyphs">B not Mem</text>
<line x1="595.9" y1="52.45" x2="618.1" y2="52.45" stroke="#56b4e9" stroke-width="1.1"/>
<text x="591" y="64.27" font-size="8.3" text-anchor="end" fill="#484848" font-family='"Liberation Sans", sans-serif' font-weight="normal" textLength="41.4" lengthAdjust="spacingAndGlyphs">B Mem (y2)</text>
<line x1="595.9" y1="61.3" x2="618.1" y2="61.3" stroke="#009e73" stroke-width="1.1"/>
<text x="591" y="73.12" font-size="8.3" text-anchor="end" fill="#484848" font-family='"Liberation Sans", sans-serif' font-weight="normal" textLength="49.2" lengthAdjust="spacingAndGlyphs">B isotype IgM</text>
<line x1="595.9" y1="70.15" x2="618.1" y2="70.15" stroke="#e51e10" stroke-width="1.1"/>
<text x="591" y="81.97" font-size="8.3" text-anchor="end" fill="#484848" font-family='"Liberation Sans", sans-serif' font-weight="normal" textLength="53.2" lengthAdjust="spacingAndGlyphs">B isotype IgG1</text>
<line x1="595.9" y1="79" x2="618.1" y2="79" stroke="#9400d3" stroke-width="1.1"/>
<text x="591" y="90.82" font-size="8.3" text-anchor="end" fill="#484848" font-family='"Liberation Sans", sans-serif' font-weight="normal" textLength="53.2" lengthAdjust="spacingAndGlyphs">B isotype IgG2</text>
<line x1="595.9" y1="87.85" x2="618.1" y2="87.85" stroke="#e69f00" stroke-width="1.1"/>
<rect x="77.8" y="266" width="213.4" height="169.2" fill="none" stroke="#6e6e6e" stroke-width="0.9"/>
<line x1="108.29" y1="435.2" x2="108.29" y2="432.2" stroke="#6e6e6e" stroke-width="0.9"/>
<line x1="108.29" y1="266" x2="108.29" y2="269" stroke="#6e6e6e" stroke-width="0.9"/>
<line x1="138.77" y1="435.2" x2="138.77" y2="432.2" stroke="#6e6e6e" stroke-width="0.9"/>
<line x1="138.77" y1="266" x2="138.77" y2="269" stroke="#6e6e6e" stroke-width="0.9"/>
<line x1="169.26" y1="435.2" x2="169.26" y2="432.2" stroke="#6e6e6e" stroke-width="0.9"/>
<line x1="169.26" y1="266" x2="169.26" y2="269" stroke="#6e6e6e" stroke-width="0.9"/>
<line x1="199.74" y1="435.2" x2="199.74" y2="432.2" stroke="#6e6e6e" stroke-width="0.9"/>
<line x1="199.74" y1="266" x2="199.74" y2="269" stroke="#6e6e6e" stroke-width="0.9"/>
<line x1="230.23" y1="435.2" x2="230.23" y2="432.2" stroke="#6e6e6e" stroke-width="0.9"/>
<line x1="230.23" y1="266" x2="230.23" y2="269" stroke="#6e6e6e" stroke-width="0.9"/>
<line x1="260.71" y1="435.2" x2="260.71" y2="432.2" stroke="#6e6e6e" stroke-width="0.9"/>
<line x1="260.71" y1="266" x2="260.71" y2="269" stroke="#6e6e6e" stroke-width="0.9"/>
<line x1="77.8" y1="407" x2="80.8" y2="407" stroke="#6e6e6e" stroke-width="0.9"/>
<line x1="77.8" y1="378.8" x2="80.8" y2="378.8" stroke="#6e6e6e" stroke-width="0.9"/>
<line x1="77.8" y1="350.6" x2="80.8" y2="350.6" stroke="#6e6e6e" stroke-width="0.9"/>
<line x1="77.8" y1="322.4" x2="80.8" y2="322.4" stroke="#6e6e6e" stroke-width="0.9"/>
<line x1="77.8" y1="294.2" x2="80.8" y2="294.2" stroke="#6e6e6e" stroke-width="0.9"/>
<line x1="291.2" y1="392.9" x2="288.2" y2="392.9" stroke="#6e6e6e" stroke-width="0.9"/>
<line x1="291.2" y1="350.6" x2="288.2" y2="350.6" stroke="#6e6e6e" stroke-width="0.9"/>
<line x1="291.2" y1="308.3" x2="288.2" y2="308.3" stroke="#6e6e6e" stroke-width="0.9"/>
<text x="184.6" y="255.27" font-size="8.3" text-anchor="middle" fill="#484848" font-family='"Liberation Sans", sans-serif' font-weight="normal">TC cell population per state (cells per mm<tspan font-size="6.3" dy="-3.4">3</tspan><tspan dy="3.4">)</tspan></text>
<text x="72.7" y="438.17" font-size="8.3" text-anchor="end" fill="#484848" font-family='"Liberation Sans", sans-serif' font-weight="normal">0</text>
<text x="72.7" y="409.97" font-size="8.3" text-anchor="end" fill="#484848" font-family='"Liberation Sans", sans-serif' font-weight="normal">200</text>
<text x="72.7" y="381.77" font-size="8.3" text-anchor="end" fill="#484848" font-family='"Liberation Sans", sans-serif' font-weight="normal">400</text>
<text x="72.7" y="353.57" font-size="8.3" text-anchor="end" fill="#484848" font-family='"Liberation Sans", sans-serif' font-weight="normal">600</text>
<text x="72.7" y="325.37" font-size="8.3" text-anchor="end" fill="#484848" font-family='"Liberation Sans", sans-serif' font-weight="normal">800</text>
<text x="72.7" y="297.17" font-size="8.3" text-anchor="end" fill="#484848" font-family='"Liberation Sans", sans-serif' font-weight="normal">1000</text>
<text x="72.7" y="268.97" font-size="8.3" text-anchor="end" fill="#484848" font-family='"Liberation Sans", sans-serif' font-weight="normal">1200</text>
<text x="295.5" y="438.17" font-size="8.3" text-anchor="start" fill="#484848" font-family='"Liberation Sans", sans-serif' font-weight="normal">-1</text>
<text x="295.5" y="395.87" font-size="8.3" text-anchor="start" fill="#484848" font-family='"Liberation Sans", sans-serif' font-weight="normal">-0.5</text>
<text x="298.8" y="353.57" font-size="8.3" text-anchor="start" fill="#484848" font-family='"Liberation Sans", sans-serif' font-weight="normal">0</text>
<text x="298.8" y="311.27" font-size="8.3" text-anchor="start" fill="#484848" font-family='"Liberation Sans", sans-serif' font-weight="normal">0.5</text>
<text x="298.8" y="268.97" font-size="8.3" text-anchor="start" fill="#484848" font-family='"Liberation Sans", sans-serif' font-weight="normal">1</text>
<text x="78.8" y="447.47" font-size="8.3" text-anchor="middle" fill="#484848" font-family='"Liberation Sans", sans-serif' font-weight="normal">0</text>
<text x="109.29" y="447.47" font-size="8.3" text-anchor="middle" fill="#484848" font-family='"Liberation Sans", sans-serif' font-weight="normal">50</text>
<text x="139.77" y="447.47" font-size="8.3" text-anchor="middle" fill="#484848" font-family='"Liberation Sans", sans-serif' font-weight="normal">100</text>
<text x="170.26" y="447.47" font-size="8.3" text-anchor="middle" fill="#484848" font-family='"Liberation Sans", sans-serif' font-weight="normal">150</text>
<text x="200.74" y="447.47" font-size="8.3" text-anchor="middle" fill="#484848" font-family='"Liberation Sans", sans-serif' font-weight="normal">200</text>
<text x="231.23" y="447.47" font-size="8.3" text-anchor="middle" fill="#484848" font-family='"Liberation Sans", sans-serif' font-weight="normal">250</text>
<text x="261.71" y="447.47" font-size="8.3" text-anchor="middle" fill="#484848" font-family='"Liberation Sans", sans-serif' font-weight="normal">300</text>
<text x="292.2" y="447.47" font-size="8.3" text-anchor="middle" fill="#484848" font-family='"Liberation Sans", sans-serif' font-weight="normal">350</text>
<text x="184.4" y="460.87" font-size="8.3" text-anchor="middle" fill="#484848" font-family='"Liberation Sans", sans-serif' font-weight="normal">days</text>
<text x="324.5" y="352.97" font-size="8.3" text-anchor="middle" fill="#484848" font-family='"Liberation Sans", sans-serif' font-weight="normal" transform="rotate(-90 324.5 350)">Anergic</text>
<line x1="77.8" y1="350.6" x2="291.2" y2="350.6" stroke="#e69f00" stroke-width="1.2"/>
<line x1="77.8" y1="435" x2="291.2" y2="435" stroke="#1a5a40" stroke-width="1"/>
<path d="M78.6,277.8 L79.3,281.16 L80.2,290.31 L81.1,300.07 L81.78,305.2 L82.46,310.02 L83.14,314.57 L83.82,320.94 L84.5,326.15 L85.2,331.07 L85.9,335.9 L86.6,341.96 L87.3,347.33 L88,353.05 L88.62,354.28 L89.24,356.87 L89.86,358.88 L90.48,361.73 L91.1,365.59 L91.78,366.95 L92.47,371.15 L93.15,375.8 L93.83,378.49 L94.52,382.09 L95.2,384.9 L95.88,386.96 L96.57,388.63 L97.25,388.65 L97.93,391.34 L98.62,393.79 L99.3,395.65 L99.92,396.11 L100.53,398.67 L101.15,399.91 L101.77,400.3 L102.38,401.51 L103,402.14 L103.63,403.42 L104.26,402.81 L104.89,402.98 L105.51,403.27 L106.14,403.73 L106.77,403.92 L107.4,403.32 L108.02,403.23 L108.64,403.87 L109.27,403.22 L109.89,403.43 L110.51,403.68 L111.13,403.1 L111.76,403.04 L112.38,401.78 L113,401.6 L113.61,402.75 L114.22,402.22 L114.83,402.7 L115.44,403.44 L116.05,403.97 L116.65,403.74 L117.26,404.61 L117.87,405.33 L118.48,405.66 L119.09,405.82 L119.7,405.5 L120.36,405 L121.03,404.98 L121.69,405.81 L122.35,405.45 L123.01,403.67 L123.67,403.15 L124.34,403.39 L125,402.77 L125.61,402.53 L126.22,402.42 L126.84,402.17 L127.45,402.32 L128.06,402.42 L128.68,404.11 L129.29,403.21 L129.9,403.25 L130.52,403.84 L131.14,403.13 L131.76,402.59 L132.38,402.35 L133,401.21 L133.62,401.15 L134.24,400.47 L134.86,400.34 L135.48,399.5 L136.1,398.91 L136.72,398.75 L137.34,397.72 L137.96,396.25 L138.58,395.72 L139.2,393.96 L139.82,392.57 L140.44,391.45 L141.06,389.82 L141.68,388.41 L142.3,387.34 L142.92,386.34 L143.54,385.92 L144.16,385.53 L144.79,384.39 L145.41,383.78 L146.03,382.63 L146.65,381.09 L147.27,379.62 L147.89,379.01 L148.51,377.2 L149.14,376.54 L149.76,375.67 L150.38,374.7 L151,374.04 L151.61,373.39 L152.22,372.69 L152.83,373.04 L153.43,372.38 L154.04,371.62 L154.65,370.76 L155.26,369.82 L155.87,368.92 L156.48,368.71 L157.09,368.06 L157.7,367.58 L158.3,366.64 L158.91,364.98 L159.52,364.79 L160.13,363.29 L160.74,361.53 L161.35,361.26 L161.96,360.06 L162.57,359.24 L163.17,359.53 L163.78,359.03 L164.39,358.33 L165,358.52 L165.63,357.99 L166.26,358.07 L166.89,357.77 L167.51,358.26 L168.14,356.8 L168.77,355.55 L169.4,356.2 L170.03,354.78 L170.66,354.39 L171.29,354.26 L171.91,352.85 L172.54,352.94 L173.17,352.28 L173.8,351.29 L174.45,349.78 L175.1,348.62 L175.75,347.6 L176.4,346.51 L177.05,344.9 L177.7,344.56 L178.35,343.55 L179,342.36 L179.62,341.52 L180.25,340.82 L180.87,341.61 L181.49,340.98 L182.12,340.04 L182.74,337.68 L183.36,337.91 L183.99,337.64 L184.61,336.33 L185.24,336.25 L185.86,335.26 L186.48,335.06 L187.11,333.94 L187.73,333.51 L188.35,332.82 L188.98,332.58 L189.6,331.81 L190.22,331.98 L190.84,330.46 L191.46,330.15 L192.09,330.58 L192.71,330.82 L193.33,331.24 L193.95,330.35 L194.57,329.97 L195.19,329.61 L195.81,328.48 L196.44,328.55 L197.06,327.93 L197.68,326.85 L198.3,326.7 L198.94,325.46 L199.57,325.53 L200.21,324.65 L200.85,322.65 L201.48,322.58 L202.12,321.5 L202.75,320.66 L203.39,319.53 L204.03,319.11 L204.66,316.88 L205.3,315.41 L205.96,315.76 L206.62,316.04 L207.29,316.92 L207.95,317.35 L208.61,316.42 L209.28,315.71 L209.94,315.7 L210.6,315.48 L211.22,315.01 L211.84,314.36 L212.45,315.3 L213.07,314.45 L213.69,313.66 L214.31,312.55 L214.92,311.61 L215.54,311.43 L216.16,311.43 L216.78,311.03 L217.39,310.88 L218.01,309.79 L218.63,309.44 L219.25,308.2 L219.86,308.15 L220.48,307.89 L221.1,306.7 L221.72,305.54 L222.34,305.44 L222.95,305.41 L223.57,305.41 L224.19,304.93 L224.81,304.86 L225.42,304.67 L226.04,305.53 L226.66,305.81 L227.28,305.38 L227.89,303.4 L228.51,302.85 L229.13,301.92 L229.75,302 L230.36,301.37 L230.98,300.12 L231.6,299.7 L232.22,299.43 L232.84,298.71 L233.45,298.61 L234.07,298.59 L234.69,298.43 L235.31,298.52 L235.92,297.54 L236.54,297.84 L237.16,297.18 L237.78,296.66 L238.39,297.04 L239.01,296.39 L239.63,295.78 L240.25,295.92 L240.86,296.66 L241.48,296.98 L242.1,296.66 L242.71,296.71 L243.32,295.07 L243.92,295.25 L244.53,295.66 L245.14,295.65 L245.75,295.54 L246.35,296.35 L246.96,295.13 L247.57,295.89 L248.18,294.11 L248.78,294.1 L249.39,292.71 L250,293.21 L250.65,291.58 L251.29,292.57 L251.94,291.43 L252.58,292.21 L253.23,292.15 L253.88,291.54 L254.52,291.39 L255.17,290.23 L255.82,290.11 L256.46,289.23 L257.11,289.6 L257.75,290.1 L258.4,289.15 L259,288.53 L259.6,287.75 L260.2,287.68 L260.8,287.13 L261.4,287.61 L262,287.21 L262.6,286.55 L263.2,286.02 L263.8,285.69 L264.4,286.26 L265,286.86 L265.6,286.7 L266.2,285.72 L266.8,285.23 L267.4,285.74 L268,285.9 L268.6,286.14 L269.2,286.3 L269.8,284.76 L270.4,283.98 L271,284.95 L271.63,283.91 L272.26,284.16 L272.89,283.22 L273.52,284.01 L274.16,285.2 L274.79,284.2 L275.42,284.7 L276.05,284.54 L276.68,284.05 L277.31,283.59 L277.94,283.11 L278.58,281.26 L279.21,281.79 L279.84,281.07 L280.47,280.6 L281.1,280.69 L281.73,281.12 L282.36,282.15 L282.99,282.59 L283.62,282.17 L284.26,282.59 L284.89,282.48 L285.52,282.41 L286.15,283.76 L286.78,283.92 L287.41,283.79 L288.04,284.22 L288.68,284.17 L289.31,283.7 L289.94,284.03 L290.57,283.96 L291.2,285" fill="none" stroke="#56b4e9" stroke-width="1" stroke-linejoin="round"/>
<path d="M77.8,435.2 L77.84,434.75 L77.88,434.24 L77.92,433.65 L77.97,433.01 L78.02,432.31 L78.08,431.56 L78.14,430.77 L78.2,429.94 L78.27,429.07 L78.34,428.18 L78.41,427.26 L78.48,426.63 L78.56,425.56 L78.64,424.31 L78.72,423.94 L78.79,422.73 L78.88,421.77 L78.96,420.43 L79.04,419.4 L79.12,418.93 L79.2,418.33 L79.28,417.49 L79.36,416.24 L79.44,415.23 L79.52,414.81 L79.61,414.36 L79.69,412.84 L79.78,412.6 L79.87,411.23 L79.96,410.55 L80.05,409.48 L80.14,408.91 L80.24,408.18 L80.33,407.94 L80.43,407.11 L80.52,405.52 L80.62,404.81 L80.71,404.62 L80.81,403.04 L80.91,402.33 L81,401.62 L81.1,400.45 L81.2,399.76 L81.29,399.09 L81.39,398.26 L81.48,398.02 L81.58,396.49 L81.68,395.59 L81.77,395.46 L81.87,394.16 L81.97,393.7 L82.07,392.66 L82.17,391.95 L82.27,390.64 L82.37,389.64 L82.47,389.4 L82.57,388.27 L82.67,387.52 L82.78,386.8 L82.88,386.06 L82.98,384.76 L83.08,384.03 L83.19,383.78 L83.29,382.59 L83.4,381.57 L83.5,381.13 L83.62,379.88 L83.74,379.51 L83.86,377.91 L83.99,377.83 L84.11,376.72 L84.24,375.66 L84.36,375.4 L84.49,373.89 L84.61,373.04 L84.74,372.04 L84.86,371.7 L84.99,371.09 L85.12,370.21 L85.24,369.14 L85.37,368.73 L85.5,367.24 L85.62,366.65 L85.75,366.2 L85.87,365.74 L86,364.63 L86.14,363.83 L86.28,363.06 L86.42,361.83 L86.55,361.54 L86.69,360.5 L86.83,359.27 L86.97,358.49 L87.11,358.09 L87.24,356.82 L87.38,355.85 L87.52,355.74 L87.66,354.61 L87.8,353.81 L87.94,353.19 L88.08,352.65 L88.22,351.12 L88.36,350.58 L88.5,349.57 L88.67,349.03 L88.84,348.25 L89.01,347.73 L89.18,346.68 L89.35,345.74 L89.52,344.73 L89.69,344.08 L89.86,342.96 L90.03,342.74 L90.21,341.9 L90.38,341.19 L90.56,339.76 L90.74,339.55 L90.92,338.93 L91.1,338 L91.38,337.42 L91.66,336.5 L91.94,335.46 L92.22,334.7 L92.51,333.72 L92.8,333.19 L93.1,331.7 L93.4,331.56 L93.7,330.87 L94,330.11 L94.44,328.89 L94.87,327.88 L95.32,327.68 L95.77,327.21 L96.23,325.98 L96.71,325.24 L97.2,324.52 L97.64,323.73 L98.09,323.63 L98.55,323.23 L99.03,322.37 L99.5,321.25 L99.99,320.93 L100.49,319.67 L101,319.84 L101.56,318.69 L102.1,317.76 L102.64,317.81 L103.22,316.77 L103.85,316.38 L104.57,315.66 L105.4,315.55 L106.07,315.31 L106.8,315.24 L107.58,314.15 L108.41,314.62 L109.27,313.6 L110.14,313.42 L111.03,313.53 L111.91,312.97 L112.77,312.69 L113.6,312.67 L114.41,312.06 L115.22,312.37 L116.03,311.52 L116.84,311.89 L117.64,311.61 L118.45,311.11 L119.26,310.4 L120.07,310.99 L120.88,310.11 L121.7,310.5 L122.53,310.38 L123.37,310 L124.22,310.57 L125.07,310.69 L125.92,310.62 L126.76,310.54 L127.6,310.8 L128.42,311.06 L129.22,310.94 L130,311.87 L130.76,312.34 L131.52,312.56 L132.26,313.18 L132.99,313.05 L133.71,314.25 L134.41,313.91 L135.09,314.91 L135.75,315.18 L136.39,316.13 L137,316.98 L137.58,317.64 L138.12,318.02 L138.63,318.56 L139.12,319.08 L139.59,319.99 L140.06,320.59 L140.53,321.25 L141,322.57 L141.49,323.16 L142,323.94 L142.37,324.34 L142.75,325.53 L143.12,325.74 L143.49,326.55 L143.87,327.61 L144.24,328.52 L144.62,329.58 L145.01,330.14 L145.4,331.12 L145.8,331.86 L146.21,332.42 L146.63,333.15 L147.06,333.19 L147.5,334.01 L148,334.5 L148.53,336.01 L149.08,336.51 L149.66,337.04 L150.24,337.28 L150.83,337.97 L151.42,338.36 L151.99,339.41 L152.56,340.35 L153.09,340.24 L153.6,340.56 L154.07,341.28 L154.5,342.06 L154.97,343.39 L155.34,344.1 L155.64,344.55 L155.9,345.01 L156.14,345.81 L156.39,346.65 L156.67,348.06 L157.02,348.52 L157.45,349.78 L158,350.41 L158.5,350.81 L159.06,350.95 L159.67,351.72 L160.32,351.43 L161,351.8 L161.71,352.64 L162.44,352.98 L163.18,353.09 L163.93,353.59 L164.67,353.85 L165.4,355.29 L166.11,355.71 L166.8,356.65 L167.26,357.21 L167.7,357.23 L168.14,358.12 L168.58,358.4 L169,359.49 L169.43,360.2 L169.86,360.19 L170.29,360.78 L170.72,361.71 L171.15,362.83 L171.59,363.37 L172.03,363.75 L172.49,365.32 L172.96,366.02 L173.43,366.44 L173.93,366.75 L174.43,368.31 L174.96,368.65 L175.5,368.87 L176.01,369.73 L176.53,370.63 L177.07,371.5 L177.62,371.7 L178.18,372.46 L178.75,372.63 L179.33,373.27 L179.92,374.53 L180.52,374.6 L181.12,374.92 L181.73,376 L182.34,376.12 L182.95,376.78 L183.57,377.62 L184.18,378.33 L184.79,378.95 L185.4,379.59 L186.01,379.88 L186.61,380.07 L187.21,381.28 L187.8,381.15 L188.42,382.14 L189.05,382.63 L189.69,383.46 L190.33,384.06 L190.98,384.14 L191.63,385.09 L192.28,385.68 L192.94,386 L193.59,386.2 L194.23,387.5 L194.87,387.71 L195.5,387.69 L196.13,388.38 L196.74,389.64 L197.34,389.39 L197.93,390.05 L198.5,390.94 L199.05,391.46 L199.59,391.76 L200.1,392.34 L200.78,392.31 L201.41,393.01 L201.98,394.52 L202.52,394.97 L203.02,394.81 L203.51,395.42 L203.98,396.2 L204.46,397.47 L204.94,397.34 L205.45,398.38 L205.99,399.23 L206.57,399.53 L207.21,400.41 L207.9,400.36 L208.45,400.71 L209.02,401.04 L209.62,402.25 L210.24,402.08 L210.87,403.43 L211.52,403.65 L212.19,403.61 L212.87,404.71 L213.55,404.55 L214.25,405.38 L214.95,405.45 L215.65,406.61 L216.36,407.18 L217.06,407.66 L217.76,407.2 L218.46,408.49 L219.15,408.63 L219.83,409.31 L220.5,409.4 L221.24,409.96 L221.98,410.37 L222.72,410.99 L223.46,410.68 L224.2,411.06 L224.94,411.94 L225.68,412.07 L226.42,412.55 L227.16,412.53 L227.9,413.63 L228.65,413.27 L229.39,414.42 L230.13,414.75 L230.87,414.74 L231.61,414.75 L232.36,415.61 L233.1,415.51 L233.84,416.06 L234.59,416.06 L235.34,417.24 L236.08,417.12 L236.83,417.22 L237.58,417.26 L238.33,418.18 L239.08,418.59 L239.82,418.87 L240.57,418.41 L241.32,418.95 L242.07,419.17 L242.82,419.91 L243.56,419.58 L244.31,420.32 L245.06,420.98 L245.8,421.07 L246.59,420.63 L247.38,421.02 L248.17,421.39 L248.96,422.31 L249.74,422.56 L250.53,422.82 L251.32,423.09 L252.11,423.38 L252.89,423.92 L253.68,424.29 L254.47,424.87 L255.25,425 L256.04,425.37 L256.83,425.78 L257.61,425.98 L258.4,426.12 L259.17,425.67 L259.92,426.55 L260.65,426.93 L261.37,426.71 L262.08,427.34 L262.79,426.82 L263.5,427.76 L264.22,427.42 L264.96,427.85 L265.72,427.56 L266.5,427.77 L267.32,427.99 L268.17,428.14 L269.06,428.1 L270,428.64 L271,429.38 L271.68,429.19 L272.42,429.62 L273.2,429.61 L274.02,429.84 L274.88,430.16 L275.76,430.09 L276.67,429.79 L277.61,429.94 L278.55,430.28 L279.5,430.07 L280.46,430.45 L281.41,431.29 L282.36,431.5 L283.29,431.08 L284.21,431.69 L285.1,431.85 L285.97,432.13 L286.8,432.18 L287.59,432.07 L288.33,431.78 L289.03,432.62 L289.67,432.23 L290.25,432.65 L290.76,432.48 L291.2,432.7" fill="none" stroke="#9400d3" stroke-width="1.1" stroke-linejoin="round"/>
<text x="255.1" y="276.57" font-size="8.3" text-anchor="end" fill="#484848" font-family='"Liberation Sans", sans-serif' font-weight="normal" textLength="26.5" lengthAdjust="spacingAndGlyphs">ACTIVE</text>
<line x1="259.6" y1="273.6" x2="281.9" y2="273.6" stroke="#9400d3" stroke-width="1.1"/>
<text x="255.1" y="285.57" font-size="8.3" text-anchor="end" fill="#484848" font-family='"Liberation Sans", sans-serif' font-weight="normal" textLength="50.5" lengthAdjust="spacingAndGlyphs">DUPLICATING</text>
<line x1="259.6" y1="282.6" x2="281.9" y2="282.6" stroke="#009e73" stroke-width="1.1"/>
<text x="255.1" y="294.57" font-size="8.3" text-anchor="end" fill="#484848" font-family='"Liberation Sans", sans-serif' font-weight="normal" textLength="32.6" lengthAdjust="spacingAndGlyphs">RESTING</text>
<line x1="259.6" y1="291.6" x2="281.9" y2="291.6" stroke="#56b4e9" stroke-width="1.1"/>
<text x="255.1" y="303.57" font-size="8.3" text-anchor="end" fill="#484848" font-family='"Liberation Sans", sans-serif' font-weight="normal" textLength="50.5" lengthAdjust="spacingAndGlyphs">ANERGIC (y2)</text>
<line x1="259.6" y1="300.6" x2="281.9" y2="300.6" stroke="#e69f00" stroke-width="1.1"/>
<rect x="416.5" y="264.5" width="245.2" height="169.4" fill="none" stroke="#6e6e6e" stroke-width="0.9"/>
<line x1="451.53" y1="433.9" x2="451.53" y2="430.9" stroke="#6e6e6e" stroke-width="0.9"/>
<line x1="451.53" y1="264.5" x2="451.53" y2="267.5" stroke="#6e6e6e" stroke-width="0.9"/>
<line x1="486.56" y1="433.9" x2="486.56" y2="430.9" stroke="#6e6e6e" stroke-width="0.9"/>
<line x1="486.56" y1="264.5" x2="486.56" y2="267.5" stroke="#6e6e6e" stroke-width="0.9"/>
<line x1="521.59" y1="433.9" x2="521.59" y2="430.9" stroke="#6e6e6e" stroke-width="0.9"/>
<line x1="521.59" y1="264.5" x2="521.59" y2="267.5" stroke="#6e6e6e" stroke-width="0.9"/>
<line x1="556.61" y1="433.9" x2="556.61" y2="430.9" stroke="#6e6e6e" stroke-width="0.9"/>
<line x1="556.61" y1="264.5" x2="556.61" y2="267.5" stroke="#6e6e6e" stroke-width="0.9"/>
<line x1="591.64" y1="433.9" x2="591.64" y2="430.9" stroke="#6e6e6e" stroke-width="0.9"/>
<line x1="591.64" y1="264.5" x2="591.64" y2="267.5" stroke="#6e6e6e" stroke-width="0.9"/>
<line x1="626.67" y1="433.9" x2="626.67" y2="430.9" stroke="#6e6e6e" stroke-width="0.9"/>
<line x1="626.67" y1="264.5" x2="626.67" y2="267.5" stroke="#6e6e6e" stroke-width="0.9"/>
<line x1="416.5" y1="415.08" x2="419.5" y2="415.08" stroke="#6e6e6e" stroke-width="0.9"/>
<line x1="416.5" y1="396.26" x2="419.5" y2="396.26" stroke="#6e6e6e" stroke-width="0.9"/>
<line x1="416.5" y1="377.43" x2="419.5" y2="377.43" stroke="#6e6e6e" stroke-width="0.9"/>
<line x1="416.5" y1="358.61" x2="419.5" y2="358.61" stroke="#6e6e6e" stroke-width="0.9"/>
<line x1="416.5" y1="339.79" x2="419.5" y2="339.79" stroke="#6e6e6e" stroke-width="0.9"/>
<line x1="416.5" y1="320.97" x2="419.5" y2="320.97" stroke="#6e6e6e" stroke-width="0.9"/>
<line x1="416.5" y1="302.14" x2="419.5" y2="302.14" stroke="#6e6e6e" stroke-width="0.9"/>
<line x1="416.5" y1="283.32" x2="419.5" y2="283.32" stroke="#6e6e6e" stroke-width="0.9"/>
<text x="539.3" y="253.87" font-size="8.3" text-anchor="middle" fill="#484848" font-family='"Liberation Sans", sans-serif' font-weight="normal">TH cell population per state (cells per mm<tspan font-size="6.3" dy="-3.4">3</tspan><tspan dy="3.4">)</tspan></text>
<text x="411.2" y="436.87" font-size="8.3" text-anchor="end" fill="#484848" font-family='"Liberation Sans", sans-serif' font-weight="normal">0</text>
<text x="411.2" y="418.05" font-size="8.3" text-anchor="end" fill="#484848" font-family='"Liberation Sans", sans-serif' font-weight="normal">1000</text>
<text x="411.2" y="399.23" font-size="8.3" text-anchor="end" fill="#484848" font-family='"Liberation Sans", sans-serif' font-weight="normal">2000</text>
<text x="411.2" y="380.4" font-size="8.3" text-anchor="end" fill="#484848" font-family='"Liberation Sans", sans-serif' font-weight="normal">3000</text>
<text x="411.2" y="361.58" font-size="8.3" text-anchor="end" fill="#484848" font-family='"Liberation Sans", sans-serif' font-weight="normal">4000</text>
<text x="411.2" y="342.76" font-size="8.3" text-anchor="end" fill="#484848" font-family='"Liberation Sans", sans-serif' font-weight="normal">5000</text>
<text x="411.2" y="323.94" font-size="8.3" text-anchor="end" fill="#484848" font-family='"Liberation Sans", sans-serif' font-weight="normal">6000</text>
<text x="411.2" y="305.12" font-size="8.3" text-anchor="end" fill="#484848" font-family='"Liberation Sans", sans-serif' font-weight="normal">7000</text>
<text x="411.2" y="286.29" font-size="8.3" text-anchor="end" fill="#484848" font-family='"Liberation Sans", sans-serif' font-weight="normal">8000</text>
<text x="411.2" y="267.47" font-size="8.3" text-anchor="end" fill="#484848" font-family='"Liberation Sans", sans-serif' font-weight="normal">9000</text>
<text x="417.5" y="446.07" font-size="8.3" text-anchor="middle" fill="#484848" font-family='"Liberation Sans", sans-serif' font-weight="normal">0</text>
<text x="452.53" y="446.07" font-size="8.3" text-anchor="middle" fill="#484848" font-family='"Liberation Sans", sans-serif' font-weight="normal">50</text>
<text x="487.56" y="446.07" font-size="8.3" text-anchor="middle" fill="#484848" font-family='"Liberation Sans", sans-serif' font-weight="normal">100</text>
<text x="522.59" y="446.07" font-size="8.3" text-anchor="middle" fill="#484848" font-family='"Liberation Sans", sans-serif' font-weight="normal">150</text>
<text x="557.61" y="446.07" font-size="8.3" text-anchor="middle" fill="#484848" font-family='"Liberation Sans", sans-serif' font-weight="normal">200</text>
<text x="592.64" y="446.07" font-size="8.3" text-anchor="middle" fill="#484848" font-family='"Liberation Sans", sans-serif' font-weight="normal">250</text>
<text x="627.67" y="446.07" font-size="8.3" text-anchor="middle" fill="#484848" font-family='"Liberation Sans", sans-serif' font-weight="normal">300</text>
<text x="662.7" y="446.07" font-size="8.3" text-anchor="middle" fill="#484848" font-family='"Liberation Sans", sans-serif' font-weight="normal">350</text>
<text x="539.3" y="459.27" font-size="8.3" text-anchor="middle" fill="#484848" font-family='"Liberation Sans", sans-serif' font-weight="normal">days</text>
<path d="M416.5,433.9 C416.92,433.75 418.38,434.48 419,433 C419.62,431.52 419.78,430.5 420.2,425 C420.62,419.5 421.12,406.17 421.5,400 C421.88,393.83 422.05,390.97 422.5,388 C422.95,385.03 423.28,383.37 424.2,382.2 C425.12,381.03 426.7,380.87 428,381 C429.3,381.13 430.6,381.98 432,383 C433.4,384.02 435.57,385.77 436.4,387.1 C437.23,388.43 436.9,390.35 437,391 L437.2,395 C437.3,385.83 437.58,354.17 437.8,340 C438.02,325.83 437.98,316.75 438.5,310 C439.02,303.25 439.98,300.67 440.9,299.5 C441.82,298.33 442.82,301.25 444,303 C445.18,304.75 446.67,307.17 448,310 C449.33,312.83 450.7,316.33 452,320 C453.3,323.67 455.08,328.4 455.8,332 C456.52,335.6 456.22,340 456.3,341.6 L456.5,340 C456.67,333.33 457.03,309.9 457.5,300 C457.97,290.1 458.55,282.77 459.3,280.6 C460.05,278.43 460.55,282.38 462,287 C463.45,291.62 465.23,297.88 468,308.3 C470.77,318.72 475.1,337.4 478.6,349.5 C482.1,361.6 485.77,372.68 489,380.9 C492.23,389.12 495.67,394.78 498,398.8 C500.33,402.82 501.27,403.25 503,405 C504.73,406.75 502.25,407.58 508.4,409.3 C514.55,411.02 527.17,413.65 539.9,415.3 C552.63,416.95 569.83,418.2 584.8,419.2 C599.77,420.2 616.88,420.7 629.7,421.3 C642.52,421.9 656.37,422.55 661.7,422.8" fill="none" stroke="#9400d3" stroke-width="1.1" stroke-linejoin="round" stroke-linecap="round"/>
<path d="M416.7,407.8 C416.92,408.83 417.63,412.52 418,414 C418.37,415.48 418.57,417.37 418.9,416.7 C419.23,416.03 419.65,414.45 420,410 C420.35,405.55 420.63,395.62 421,390 C421.37,384.38 421.7,378.97 422.2,376.3 C422.7,373.63 423.33,374.55 424,374 C424.67,373.45 425.2,372.92 426.2,373 C427.2,373.08 428.87,373.83 430,374.5 C431.13,375.17 431.97,375.97 433,377 C434.03,378.03 435.6,379.78 436.2,380.7 C436.8,381.62 436.53,382.2 436.6,382.5 L436.6,382.5 L437.75,355.9 L437.75,355.9 L439.3,361.7 L439.3,361.7 C439.95,362.4 441.78,363.9 443.2,365.9 C444.62,367.9 446.25,370.98 447.8,373.7 C449.35,376.42 451.13,379.23 452.5,382.2 C453.87,385.17 455.35,389.68 456,391.5 C456.65,393.32 456.33,392.83 456.4,393.1 L456.4,393.1 L457.3,376.4 L457.3,376.4 L459.1,381.4 L459.1,381.4 C459.68,382.18 460.87,383.57 462.6,386.1 C464.33,388.63 466.87,393.15 469.5,396.6 C472.13,400.05 474.98,402.63 478.4,406.8 C481.82,410.97 486.73,418.07 490,421.6 C493.27,425.13 495.17,426.3 498,428 C500.83,429.7 503.52,431.07 507,431.8 C510.48,432.53 513.42,432.9 518.9,432.4 C524.38,431.9 531.42,430.15 539.9,428.8 C548.38,427.45 559.83,425.4 569.8,424.3 C579.77,423.2 589.72,422.8 599.7,422.2 C609.68,421.6 619.37,421.2 629.7,420.7 C640.03,420.2 656.37,419.45 661.7,419.2" fill="none" stroke="#e51e10" stroke-width="1.1" stroke-linejoin="round" stroke-linecap="round"/>
<path d="M418.5,433.9 C418.67,432.92 419.22,430.37 419.5,428 C419.78,425.63 419.95,419.7 420.2,419.7 C420.45,419.7 420.62,425.63 421,428 C421.38,430.37 422.25,432.92 422.5,433.9" fill="none" stroke="#009e73" stroke-width="1" stroke-linejoin="round" stroke-linecap="round"/>
<path d="M436.3,433.9 C436.38,429.92 436.67,416.32 436.8,410 C436.93,403.68 436.97,395.17 437.1,396 C437.23,396.83 437.37,409.67 437.6,415 C437.83,420.33 438.1,424.85 438.5,428 C438.9,431.15 439.75,432.92 440,433.9" fill="none" stroke="#009e73" stroke-width="1" stroke-linejoin="round" stroke-linecap="round"/>
<path d="M455.6,433.9 C455.67,430.75 455.88,419.9 456,415 C456.12,410.1 456.17,404 456.3,404.5 C456.43,405 456.55,413.92 456.8,418 C457.05,422.08 457.35,426.35 457.8,429 C458.25,431.65 459.22,433.08 459.5,433.9" fill="none" stroke="#009e73" stroke-width="1" stroke-linejoin="round" stroke-linecap="round"/>
<path d="M416.5,433.9 C416.67,432.92 417.1,429.23 417.5,428 C417.9,426.77 418.48,426.5 418.9,426.5 C419.32,426.5 419.57,426.83 420,428 C420.43,429.17 421,432.52 421.5,433.5 C422,434.48 422.75,433.83 423,433.9 L423,433.9 L436,433.9 L436,433.9 C436.17,433.5 436.58,431.57 437,431.5 C437.42,431.43 438.25,433.17 438.5,433.5 L438.5,433.9 L455.5,433.9 L455.5,433.9 C455.63,433.5 455.92,431.57 456.3,431.5 C456.68,431.43 457.55,433.17 457.8,433.5 L457.8,433.9 L661.7,433.9" fill="none" stroke="#111" stroke-width="1.1" stroke-linejoin="round" stroke-linecap="round"/>
<text x="625.8" y="274.97" font-size="8.3" text-anchor="end" fill="#484848" font-family='"Liberation Sans", sans-serif' font-weight="normal" textLength="27" lengthAdjust="spacingAndGlyphs">ACTIVE</text>
<line x1="630.5" y1="272" x2="652.7" y2="272" stroke="#9400d3" stroke-width="1.1"/>
<text x="625.8" y="284.07" font-size="8.3" text-anchor="end" fill="#484848" font-family='"Liberation Sans", sans-serif' font-weight="normal" textLength="50.6" lengthAdjust="spacingAndGlyphs">DUPLICATING</text>
<line x1="630.5" y1="281.1" x2="652.7" y2="281.1" stroke="#009e73" stroke-width="1.1"/>
<text x="625.8" y="293.17" font-size="8.3" text-anchor="end" fill="#484848" font-family='"Liberation Sans", sans-serif' font-weight="normal" textLength="33" lengthAdjust="spacingAndGlyphs">RESTING</text>
<line x1="630.5" y1="290.2" x2="652.7" y2="290.2" stroke="#e51e10" stroke-width="1.1"/>
<text x="625.8" y="302.27" font-size="8.3" text-anchor="end" fill="#484848" font-family='"Liberation Sans", sans-serif' font-weight="normal" textLength="34.2" lengthAdjust="spacingAndGlyphs">ANERGIC</text>
<line x1="630.5" y1="299.3" x2="652.7" y2="299.3" stroke="#000000" stroke-width="1.1"/>
<rect x="247" y="486.9" width="232.5" height="186.5" fill="none" stroke="#bdbdbd" stroke-width="0.9"/>
<line x1="280.21" y1="673.4" x2="280.21" y2="670.4" stroke="#bdbdbd" stroke-width="0.9"/>
<line x1="280.21" y1="486.9" x2="280.21" y2="489.9" stroke="#bdbdbd" stroke-width="0.9"/>
<line x1="313.43" y1="673.4" x2="313.43" y2="670.4" stroke="#bdbdbd" stroke-width="0.9"/>
<line x1="313.43" y1="486.9" x2="313.43" y2="489.9" stroke="#bdbdbd" stroke-width="0.9"/>
<line x1="346.64" y1="673.4" x2="346.64" y2="670.4" stroke="#bdbdbd" stroke-width="0.9"/>
<line x1="346.64" y1="486.9" x2="346.64" y2="489.9" stroke="#bdbdbd" stroke-width="0.9"/>
<line x1="379.86" y1="673.4" x2="379.86" y2="670.4" stroke="#bdbdbd" stroke-width="0.9"/>
<line x1="379.86" y1="486.9" x2="379.86" y2="489.9" stroke="#bdbdbd" stroke-width="0.9"/>
<line x1="413.07" y1="673.4" x2="413.07" y2="670.4" stroke="#bdbdbd" stroke-width="0.9"/>
<line x1="413.07" y1="486.9" x2="413.07" y2="489.9" stroke="#bdbdbd" stroke-width="0.9"/>
<line x1="446.29" y1="673.4" x2="446.29" y2="670.4" stroke="#bdbdbd" stroke-width="0.9"/>
<line x1="446.29" y1="486.9" x2="446.29" y2="489.9" stroke="#bdbdbd" stroke-width="0.9"/>
<line x1="247" y1="652.68" x2="250" y2="652.68" stroke="#bdbdbd" stroke-width="0.9"/>
<line x1="479.5" y1="652.68" x2="476.5" y2="652.68" stroke="#bdbdbd" stroke-width="0.9"/>
<line x1="247" y1="631.96" x2="250" y2="631.96" stroke="#bdbdbd" stroke-width="0.9"/>
<line x1="479.5" y1="631.96" x2="476.5" y2="631.96" stroke="#bdbdbd" stroke-width="0.9"/>
<line x1="247" y1="611.23" x2="250" y2="611.23" stroke="#bdbdbd" stroke-width="0.9"/>
<line x1="479.5" y1="611.23" x2="476.5" y2="611.23" stroke="#bdbdbd" stroke-width="0.9"/>
<line x1="247" y1="590.51" x2="250" y2="590.51" stroke="#bdbdbd" stroke-width="0.9"/>
<line x1="479.5" y1="590.51" x2="476.5" y2="590.51" stroke="#bdbdbd" stroke-width="0.9"/>
<line x1="247" y1="569.79" x2="250" y2="569.79" stroke="#bdbdbd" stroke-width="0.9"/>
<line x1="479.5" y1="569.79" x2="476.5" y2="569.79" stroke="#bdbdbd" stroke-width="0.9"/>
<line x1="247" y1="549.07" x2="250" y2="549.07" stroke="#bdbdbd" stroke-width="0.9"/>
<line x1="479.5" y1="549.07" x2="476.5" y2="549.07" stroke="#bdbdbd" stroke-width="0.9"/>
<line x1="247" y1="528.34" x2="250" y2="528.34" stroke="#bdbdbd" stroke-width="0.9"/>
<line x1="479.5" y1="528.34" x2="476.5" y2="528.34" stroke="#bdbdbd" stroke-width="0.9"/>
<line x1="247" y1="507.62" x2="250" y2="507.62" stroke="#bdbdbd" stroke-width="0.9"/>
<line x1="479.5" y1="507.62" x2="476.5" y2="507.62" stroke="#bdbdbd" stroke-width="0.9"/>
<text x="242" y="676.37" font-size="8.3" text-anchor="end" fill="#484848" font-family='"Liberation Sans", sans-serif' font-weight="normal">0</text>
<text x="242" y="655.65" font-size="8.3" text-anchor="end" fill="#484848" font-family='"Liberation Sans", sans-serif' font-weight="normal">50000</text>
<text x="242" y="634.93" font-size="8.3" text-anchor="end" fill="#484848" font-family='"Liberation Sans", sans-serif' font-weight="normal">100000</text>
<text x="242" y="614.2" font-size="8.3" text-anchor="end" fill="#484848" font-family='"Liberation Sans", sans-serif' font-weight="normal">150000</text>
<text x="242" y="593.48" font-size="8.3" text-anchor="end" fill="#484848" font-family='"Liberation Sans", sans-serif' font-weight="normal">200000</text>
<text x="242" y="572.76" font-size="8.3" text-anchor="end" fill="#484848" font-family='"Liberation Sans", sans-serif' font-weight="normal">250000</text>
<text x="242" y="552.04" font-size="8.3" text-anchor="end" fill="#484848" font-family='"Liberation Sans", sans-serif' font-weight="normal">300000</text>
<text x="242" y="531.32" font-size="8.3" text-anchor="end" fill="#484848" font-family='"Liberation Sans", sans-serif' font-weight="normal">350000</text>
<text x="242" y="510.59" font-size="8.3" text-anchor="end" fill="#484848" font-family='"Liberation Sans", sans-serif' font-weight="normal">400000</text>
<text x="242" y="489.87" font-size="8.3" text-anchor="end" fill="#484848" font-family='"Liberation Sans", sans-serif' font-weight="normal">450000</text>
<text x="248" y="685.77" font-size="8.3" text-anchor="middle" fill="#484848" font-family='"Liberation Sans", sans-serif' font-weight="normal">0</text>
<text x="281.21" y="685.77" font-size="8.3" text-anchor="middle" fill="#484848" font-family='"Liberation Sans", sans-serif' font-weight="normal">50</text>
<text x="314.43" y="685.77" font-size="8.3" text-anchor="middle" fill="#484848" font-family='"Liberation Sans", sans-serif' font-weight="normal">100</text>
<text x="347.64" y="685.77" font-size="8.3" text-anchor="middle" fill="#484848" font-family='"Liberation Sans", sans-serif' font-weight="normal">150</text>
<text x="380.86" y="685.77" font-size="8.3" text-anchor="middle" fill="#484848" font-family='"Liberation Sans", sans-serif' font-weight="normal">200</text>
<text x="414.07" y="685.77" font-size="8.3" text-anchor="middle" fill="#484848" font-family='"Liberation Sans", sans-serif' font-weight="normal">250</text>
<text x="447.29" y="685.77" font-size="8.3" text-anchor="middle" fill="#484848" font-family='"Liberation Sans", sans-serif' font-weight="normal">300</text>
<text x="480.5" y="685.77" font-size="8.3" text-anchor="middle" fill="#484848" font-family='"Liberation Sans", sans-serif' font-weight="normal">350</text>
<text x="363.1" y="699.07" font-size="8.3" text-anchor="middle" fill="#484848" font-family='"Liberation Sans", sans-serif' font-weight="normal">days</text>
<text x="200.9" y="583.97" font-size="8.3" text-anchor="middle" fill="#484848" font-family='"Liberation Sans", sans-serif' font-weight="normal" transform="rotate(-90 200.9 581)">ng/mL</text>
<path d="M247.1,673.1 C247.35,664.25 248.18,639.68 248.6,620 C249.02,600.32 249.35,569.85 249.6,555 C249.85,540.15 249.75,538.33 250.1,530.9 C250.45,523.47 251.22,515.38 251.7,510.4 C252.18,505.42 252.5,503.12 253,501 C253.5,498.88 254.2,498.12 254.7,497.7 C255.2,497.28 255.65,497.78 256,498.5 C256.35,499.22 256.58,498.3 256.8,502 C257.02,505.7 257.05,511.87 257.3,520.7 C257.55,529.53 257.8,538.45 258.3,555 C258.8,571.55 259.7,605.77 260.3,620 C260.9,634.23 261.38,634.43 261.9,640.4 C262.42,646.37 262.8,651.62 263.4,655.8 C264,659.98 265.15,663.88 265.5,665.5 L265.5,665.5 C265.63,657.92 266.05,638.42 266.3,620 C266.55,601.58 266.63,569.85 267,555 C267.37,540.15 267.82,537.98 268.5,530.9 C269.18,523.82 270.27,516.48 271.1,512.5 C271.93,508.52 272.9,508.02 273.5,507 C274.1,505.98 274.38,505.9 274.7,506.4 C275.02,506.9 275.23,507.62 275.4,510 C275.57,512.38 275.48,513.2 275.7,520.7 C275.92,528.2 276.28,538.45 276.7,555 C277.12,571.55 277.68,605.77 278.2,620 C278.72,634.23 279.2,634.43 279.8,640.4 C280.4,646.37 281.08,651.53 281.8,655.8 C282.52,660.07 283.72,664.3 284.1,666 L284.1,666 C284.23,658.33 284.6,638.5 284.9,620 C285.2,601.5 285.48,570.7 285.9,555 C286.32,539.3 286.8,532.2 287.4,525.8 C288,519.4 288.73,518.73 289.5,516.6 C290.27,514.47 291.35,513.52 292,513 C292.65,512.48 293.05,510.52 293.4,513.5 C293.75,516.48 293.9,523.98 294.1,530.9 C294.3,537.82 294.35,545.15 294.6,555 C294.85,564.85 295.23,580 295.6,590 C295.97,600 296.4,608.33 296.8,615 C297.2,621.67 297.53,625.5 298,630 C298.47,634.5 298.9,637.7 299.6,642 C300.3,646.3 301.3,651.88 302.2,655.8 C303.1,659.72 304.03,662.88 305,665.5 C305.97,668.12 307.08,670.23 308,671.5 C308.92,672.77 310.08,672.83 310.5,673.1" fill="none" stroke="#9400d3" stroke-width="1.1" stroke-linejoin="round" stroke-linecap="round"/>
<path d="M249.1,673.1 C249.23,669.37 249.52,656.32 249.9,650.7 C250.28,645.08 250.85,639.75 251.4,639.4 C251.95,639.05 252.57,645.02 253.2,648.6 C253.83,652.18 254.35,657.5 255.2,660.9 C256.05,664.3 257.1,667 258.3,669 C259.5,671 261.07,672.22 262.4,672.9 C263.73,673.58 265.65,673.07 266.3,673.1" fill="none" stroke="#e69f00" stroke-width="1" stroke-linejoin="round" stroke-linecap="round"/>
<path d="M266.3,673.1 C266.42,669.25 266.8,656.3 267,650 C267.2,643.7 267.08,636.05 267.5,635.3 C267.92,634.55 268.73,641.58 269.5,645.5 C270.27,649.42 271.07,655.05 272.1,658.8 C273.13,662.55 274.42,665.7 275.7,668 C276.98,670.3 278.22,671.75 279.8,672.6 C281.38,673.45 284.3,673.02 285.2,673.1" fill="none" stroke="#e69f00" stroke-width="1" stroke-linejoin="round" stroke-linecap="round"/>
<path d="M285.2,673.1 C285.3,671.75 285.6,666.87 285.8,665 C286,663.13 285.87,661.9 286.4,661.9 C286.93,661.9 288.07,663.55 289,665 C289.93,666.45 290.98,669.28 292,670.6 C293.02,671.92 294.1,672.48 295.1,672.9 C296.1,673.32 297.52,673.07 298,673.1" fill="none" stroke="#e69f00" stroke-width="1" stroke-linejoin="round" stroke-linecap="round"/>
<path d="M249.3,673.1 C249.45,671.25 249.92,665.07 250.2,662 C250.48,658.93 250.58,654.88 251,654.7 C251.42,654.52 252,658.68 252.7,660.9 C253.4,663.12 254.27,666.05 255.2,668 C256.13,669.95 257.17,671.75 258.3,672.6 C259.43,673.45 261.38,673.02 262,673.1" fill="none" stroke="#3a3a3a" stroke-width="1" stroke-linejoin="round" stroke-linecap="round"/>
<path d="M266.3,673.1 C266.42,670.92 266.8,663.4 267,660 C267.2,656.6 266.92,652.28 267.5,652.7 C268.08,653.12 269.33,659.62 270.5,662.5 C271.67,665.38 273.25,668.23 274.5,670 C275.75,671.77 277.42,672.58 278,673.1" fill="none" stroke="#3a3a3a" stroke-width="1" stroke-linejoin="round" stroke-linecap="round"/>
<path d="M285.2,673.1 C285.27,672.08 285.48,668.53 285.6,667 C285.72,665.47 285.35,663.65 285.9,663.9 C286.45,664.15 287.88,667.05 288.9,668.5 C289.92,669.95 290.98,671.83 292,672.6 C293.02,673.37 294.5,673.02 295,673.1" fill="none" stroke="#3a3a3a" stroke-width="1" stroke-linejoin="round" stroke-linecap="round"/>
<path d="M247.3,670 C247.67,669.33 248.77,667.02 249.5,666 C250.23,664.98 250.92,663.65 251.7,663.9 C252.48,664.15 253.1,666.15 254.2,667.5 C255.3,668.85 257,671.07 258.3,672 C259.6,672.93 261.38,672.92 262,673.1" fill="none" stroke="#56b4e9" stroke-width="1" stroke-linejoin="round" stroke-linecap="round"/>
<path d="M266.3,673.1 C266.42,671.75 266.72,666.87 267,665 C267.28,663.13 267.33,661.65 268,661.9 C268.67,662.15 269.83,664.9 271,666.5 C272.17,668.1 273.67,670.4 275,671.5 C276.33,672.6 278.33,672.83 279,673.1" fill="none" stroke="#56b4e9" stroke-width="1" stroke-linejoin="round" stroke-linecap="round"/>
<path d="M285.2,673.1 C285.32,671.57 285.27,664.75 285.9,663.9 C286.53,663.05 287.82,666.57 289,668 C290.18,669.43 291.83,671.65 293,672.5 C294.17,673.35 295.5,673 296,673.1" fill="none" stroke="#56b4e9" stroke-width="1" stroke-linejoin="round" stroke-linecap="round"/>
<line x1="247.1" y1="673.25" x2="479.4" y2="673.25" stroke="#8a7a3a" stroke-width="1.1"/>
<text x="275" y="497.57" font-size="8.3" text-anchor="end" fill="#484848" font-family='"Liberation Sans", sans-serif' font-weight="normal" textLength="18.9" lengthAdjust="spacingAndGlyphs">IFN-g</text>
<line x1="280.2" y1="494.6" x2="302" y2="494.6" stroke="#9400d3" stroke-width="1.1"/>
<text x="275" y="506.45" font-size="8.3" text-anchor="end" fill="#484848" font-family='"Liberation Sans", sans-serif' font-weight="normal" textLength="13.8" lengthAdjust="spacingAndGlyphs">IL-4</text>
<line x1="280.2" y1="503.48" x2="302" y2="503.48" stroke="#009e73" stroke-width="1.1"/>
<text x="275" y="515.33" font-size="8.3" text-anchor="end" fill="#484848" font-family='"Liberation Sans", sans-serif' font-weight="normal" textLength="17.9" lengthAdjust="spacingAndGlyphs">IL-12</text>
<line x1="280.2" y1="512.36" x2="302" y2="512.36" stroke="#56b4e9" stroke-width="1.1"/>
<text x="275" y="524.21" font-size="8.3" text-anchor="end" fill="#484848" font-family='"Liberation Sans", sans-serif' font-weight="normal" textLength="20.5" lengthAdjust="spacingAndGlyphs">TGF-b</text>
<line x1="280.2" y1="521.24" x2="302" y2="521.24" stroke="#e69f00" stroke-width="1.1"/>
<text x="275" y="533.09" font-size="8.3" text-anchor="end" fill="#484848" font-family='"Liberation Sans", sans-serif' font-weight="normal" textLength="20.5" lengthAdjust="spacingAndGlyphs">TNF-a</text>
<line x1="280.2" y1="530.12" x2="302" y2="530.12" stroke="#e51e10" stroke-width="1.1"/>
<text x="275" y="541.97" font-size="8.3" text-anchor="end" fill="#484848" font-family='"Liberation Sans", sans-serif' font-weight="normal" textLength="17.9" lengthAdjust="spacingAndGlyphs">IL-10</text>
<line x1="280.2" y1="539" x2="302" y2="539" stroke="#505050" stroke-width="1.1"/>
<text x="275" y="550.85" font-size="8.3" text-anchor="end" fill="#484848" font-family='"Liberation Sans", sans-serif' font-weight="normal" textLength="13.8" lengthAdjust="spacingAndGlyphs">IL-6</text>
<line x1="280.2" y1="547.88" x2="302" y2="547.88" stroke="#d0a0f0" stroke-width="1.1"/>
<text x="275" y="559.73" font-size="8.3" text-anchor="end" fill="#484848" font-family='"Liberation Sans", sans-serif' font-weight="normal" textLength="18.9" lengthAdjust="spacingAndGlyphs">IFN-b</text>
<line x1="280.2" y1="556.76" x2="302" y2="556.76" stroke="#99d8c9" stroke-width="1.1"/>
<text x="275" y="568.61" font-size="8.3" text-anchor="end" fill="#484848" font-family='"Liberation Sans", sans-serif' font-weight="normal" textLength="17.9" lengthAdjust="spacingAndGlyphs">IL-18</text>
<line x1="280.2" y1="565.64" x2="302" y2="565.64" stroke="#a8dcf5" stroke-width="1.1"/>
<text x="275" y="577.49" font-size="8.3" text-anchor="end" fill="#484848" font-family='"Liberation Sans", sans-serif' font-weight="normal" textLength="17.9" lengthAdjust="spacingAndGlyphs">IL-23</text>
<line x1="280.2" y1="574.52" x2="302" y2="574.52" stroke="#f2c270" stroke-width="1.1"/>
<rect x="351.8" y="498" width="121.6" height="96" fill="#fff"/>
<rect x="351.8" y="498" width="121.6" height="96" fill="none" stroke="#bdbdbd" stroke-width="0.9"/>
<line x1="369.17" y1="594" x2="369.17" y2="591" stroke="#bdbdbd" stroke-width="0.9"/>
<line x1="369.17" y1="498" x2="369.17" y2="501" stroke="#bdbdbd" stroke-width="0.9"/>
<line x1="386.54" y1="594" x2="386.54" y2="591" stroke="#bdbdbd" stroke-width="0.9"/>
<line x1="386.54" y1="498" x2="386.54" y2="501" stroke="#bdbdbd" stroke-width="0.9"/>
<line x1="403.91" y1="594" x2="403.91" y2="591" stroke="#bdbdbd" stroke-width="0.9"/>
<line x1="403.91" y1="498" x2="403.91" y2="501" stroke="#bdbdbd" stroke-width="0.9"/>
<line x1="421.29" y1="594" x2="421.29" y2="591" stroke="#bdbdbd" stroke-width="0.9"/>
<line x1="421.29" y1="498" x2="421.29" y2="501" stroke="#bdbdbd" stroke-width="0.9"/>
<line x1="438.66" y1="594" x2="438.66" y2="591" stroke="#bdbdbd" stroke-width="0.9"/>
<line x1="438.66" y1="498" x2="438.66" y2="501" stroke="#bdbdbd" stroke-width="0.9"/>
<line x1="456.03" y1="594" x2="456.03" y2="591" stroke="#bdbdbd" stroke-width="0.9"/>
<line x1="456.03" y1="498" x2="456.03" y2="501" stroke="#bdbdbd" stroke-width="0.9"/>
<line x1="351.8" y1="578" x2="354.8" y2="578" stroke="#bdbdbd" stroke-width="0.9"/>
<line x1="473.4" y1="578" x2="470.4" y2="578" stroke="#bdbdbd" stroke-width="0.9"/>
<line x1="351.8" y1="562" x2="354.8" y2="562" stroke="#bdbdbd" stroke-width="0.9"/>
<line x1="473.4" y1="562" x2="470.4" y2="562" stroke="#bdbdbd" stroke-width="0.9"/>
<line x1="351.8" y1="546" x2="354.8" y2="546" stroke="#bdbdbd" stroke-width="0.9"/>
<line x1="473.4" y1="546" x2="470.4" y2="546" stroke="#bdbdbd" stroke-width="0.9"/>
<line x1="351.8" y1="530" x2="354.8" y2="530" stroke="#bdbdbd" stroke-width="0.9"/>
<line x1="473.4" y1="530" x2="470.4" y2="530" stroke="#bdbdbd" stroke-width="0.9"/>
<line x1="351.8" y1="514" x2="354.8" y2="514" stroke="#bdbdbd" stroke-width="0.9"/>
<line x1="473.4" y1="514" x2="470.4" y2="514" stroke="#bdbdbd" stroke-width="0.9"/>
<text x="347.3" y="596.97" font-size="8.3" text-anchor="end" fill="#484848" font-family='"Liberation Sans", sans-serif' font-weight="normal">0</text>
<text x="347.3" y="580.97" font-size="8.3" text-anchor="end" fill="#484848" font-family='"Liberation Sans", sans-serif' font-weight="normal">100000</text>
<text x="347.3" y="564.97" font-size="8.3" text-anchor="end" fill="#484848" font-family='"Liberation Sans", sans-serif' font-weight="normal">200000</text>
<text x="347.3" y="548.97" font-size="8.3" text-anchor="end" fill="#484848" font-family='"Liberation Sans", sans-serif' font-weight="normal">300000</text>
<text x="347.3" y="532.97" font-size="8.3" text-anchor="end" fill="#484848" font-family='"Liberation Sans", sans-serif' font-weight="normal">400000</text>
<text x="347.3" y="516.97" font-size="8.3" text-anchor="end" fill="#484848" font-family='"Liberation Sans", sans-serif' font-weight="normal">500000</text>
<text x="347.3" y="500.97" font-size="8.3" text-anchor="end" fill="#484848" font-family='"Liberation Sans", sans-serif' font-weight="normal">600000</text>
<text x="352.8" y="606.47" font-size="8.3" text-anchor="middle" fill="#484848" font-family='"Liberation Sans", sans-serif' font-weight="normal">0</text>
<text x="370.17" y="606.47" font-size="8.3" text-anchor="middle" fill="#484848" font-family='"Liberation Sans", sans-serif' font-weight="normal">50</text>
<text x="387.54" y="606.47" font-size="8.3" text-anchor="middle" fill="#484848" font-family='"Liberation Sans", sans-serif' font-weight="normal">100</text>
<text x="404.91" y="606.47" font-size="8.3" text-anchor="middle" fill="#484848" font-family='"Liberation Sans", sans-serif' font-weight="normal">150</text>
<text x="422.29" y="606.47" font-size="8.3" text-anchor="middle" fill="#484848" font-family='"Liberation Sans", sans-serif' font-weight="normal">200</text>
<text x="439.66" y="606.47" font-size="8.3" text-anchor="middle" fill="#484848" font-family='"Liberation Sans", sans-serif' font-weight="normal">250</text>
<text x="457.03" y="606.47" font-size="8.3" text-anchor="middle" fill="#484848" font-family='"Liberation Sans", sans-serif' font-weight="normal">300</text>
<text x="474.4" y="606.47" font-size="8.3" text-anchor="middle" fill="#484848" font-family='"Liberation Sans", sans-serif' font-weight="normal">350</text>
<text x="375.5" y="508.57" font-size="8.3" text-anchor="end" fill="#484848" font-family='"Liberation Sans", sans-serif' font-weight="normal">D</text>
<text x="375.5" y="518.07" font-size="8.3" text-anchor="end" fill="#484848" font-family='"Liberation Sans", sans-serif' font-weight="normal">IL-2</text>
<line x1="379.8" y1="505.6" x2="402.5" y2="505.6" stroke="#56b4e9" stroke-width="1.2"/>
<line x1="379.8" y1="515.1" x2="402.5" y2="515.1" stroke="#e69f00" stroke-width="1.2"/>
<path d="M351.8,594 C351.98,593.77 352.2,592.73 352.9,592.6 C353.6,592.47 354.55,593 356,593.2 C357.45,593.4 360.67,593.7 361.6,593.8 L361.6,593.8 C361.8,593.63 362.07,592.88 362.8,592.8 C363.53,592.72 364.62,593.13 366,593.3 C367.38,593.47 370.25,593.72 371.1,593.8 L371.1,593.8 C371.33,593.65 371.68,592.95 372.5,592.9 C373.32,592.85 374.58,593.32 376,593.5 C377.42,593.68 380.17,593.92 381,594 L381,594 L473.4,594" fill="none" stroke="#56b4e9" stroke-width="1" stroke-linejoin="round" stroke-linecap="round"/>
<path d="M351.8,594 C351.97,590.83 352.52,581.5 352.8,575 C353.08,568.5 353.27,560 353.5,555 C353.73,550 353.95,545.5 354.2,545 C354.45,544.5 354.62,547.83 355,552 C355.38,556.17 355.92,564.5 356.5,570 C357.08,575.5 357.75,581.33 358.5,585 C359.25,588.67 360.48,590.67 361,592 C361.52,593.33 361.5,592.83 361.6,593 L361.6,593 C361.67,587.5 361.87,571.33 362,560 C362.13,548.67 362.28,533.47 362.4,525 C362.52,516.53 362.55,510.03 362.7,509.2 C362.85,508.37 363,513.2 363.3,520 C363.6,526.8 363.97,540.83 364.5,550 C365.03,559.17 365.75,568.67 366.5,575 C367.25,581.33 368.23,585.08 369,588 C369.77,590.92 370.75,591.75 371.1,592.5 L371.1,592.5 C371.18,585.42 371.43,561.25 371.6,550 C371.77,538.75 371.95,530.82 372.1,525 C372.25,519.18 372.32,515.1 372.5,515.1 C372.68,515.1 372.87,518.35 373.2,525 C373.53,531.65 373.95,546.17 374.5,555 C375.05,563.83 375.75,572.17 376.5,578 C377.25,583.83 378.08,587.37 379,590 C379.92,592.63 381,593.13 382,593.8 C383,594.47 384.5,593.97 385,594 L385,594 L473.4,594" fill="none" stroke="#e69f00" stroke-width="1" stroke-linejoin="round" stroke-linecap="round"/>
<rect x="2" y="1" width="33.5" height="29.5" fill="none" stroke="#8a8a8a" stroke-width="1"/>
<rect x="343.4" y="1" width="34.1" height="30" fill="none" stroke="#8a8a8a" stroke-width="1"/>
<rect x="2" y="233.5" width="33.5" height="29.5" fill="none" stroke="#8a8a8a" stroke-width="1"/>
<rect x="343.4" y="233.5" width="33.6" height="29.5" fill="none" stroke="#8a8a8a" stroke-width="1"/>
<rect x="2" y="469.8" width="33.5" height="29.7" fill="none" stroke="#8a8a8a" stroke-width="1"/>
<text x="18.2" y="23.17" font-size="17.8" text-anchor="middle" fill="#000" font-family='"Liberation Serif", serif' font-weight="bold">A</text>
<text x="359.4" y="23.97" font-size="17.8" text-anchor="middle" fill="#000" font-family='"Liberation Serif", serif' font-weight="bold">B</text>
<text x="17.9" y="253.77" font-size="17.8" text-anchor="middle" fill="#000" font-family='"Liberation Serif", serif' font-weight="bold">C</text>
<text x="359.8" y="255.67" font-size="17.8" text-anchor="middle" fill="#000" font-family='"Liberation Serif", serif' font-weight="bold">D</text>
<text x="15.6" y="491.57" font-size="17.8" text-anchor="middle" fill="#000" font-family='"Liberation Serif", serif' font-weight="bold">E</text>
<line x1="0" y1="0.5" x2="685" y2="0.5" stroke="#000" stroke-width="1.3"/>
<line x1="2.1" y1="0" x2="2.1" y2="710" stroke="#000" stroke-width="1.6"/>
<line x1="684.1" y1="0" x2="684.1" y2="710" stroke="#000" stroke-width="1.9"/>
<line x1="0" y1="709.1" x2="685" y2="709.1" stroke="#000" stroke-width="1.9"/>
<line x1="343.4" y1="0" x2="343.4" y2="470" stroke="#000" stroke-width="1.6"/>
<line x1="0" y1="233.5" x2="685" y2="233.5" stroke="#000" stroke-width="1.6"/>
<line x1="0" y1="469.8" x2="685" y2="469.8" stroke="#000" stroke-width="1.6"/>
</svg></body></html>
